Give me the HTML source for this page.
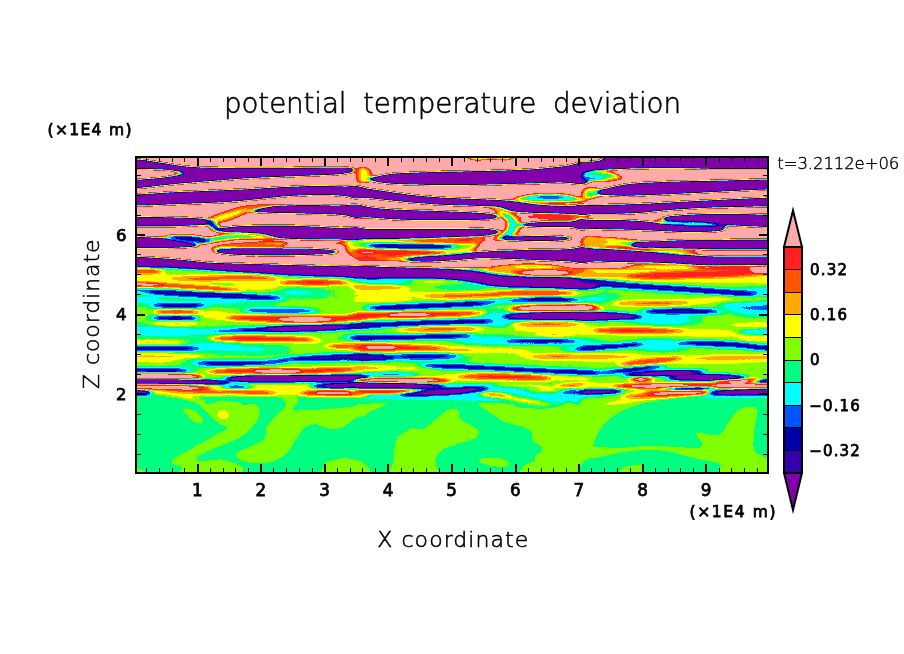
<!DOCTYPE html>
<html lang="en"><head><meta charset="utf-8"><title>potential temperature deviation</title>
<style>html,body{margin:0;padding:0;background:#fff}svg{display:block}text{font-family:"DejaVu Sans","Liberation Sans",sans-serif;fill:#000}.ws{word-spacing:8px}.thin{font-family:"DejaVu Sans Light","DejaVu Sans","Liberation Sans",sans-serif}</style></head><body>
<svg width="904" height="654" viewBox="0 0 904 654">
<defs>
<filter id="cmap" x="0" y="0" width="100%" height="100%" filterUnits="objectBoundingBox" color-interpolation-filters="sRGB"><feComponentTransfer><feFuncR type="linear" slope="1.5" intercept="-0.25"/><feFuncG type="linear" slope="1.5" intercept="-0.25"/><feFuncB type="linear" slope="1.5" intercept="-0.25"/></feComponentTransfer><feComponentTransfer><feFuncR type="table" tableValues="0.0000 0.0118 0.0236 0.0356 0.0476 0.0598 0.0721 0.0845 0.0970 0.1097 0.1225 0.1354 0.1485 0.1618 0.1752 0.1889 0.2027 0.2167 0.2310 0.2456 0.2604 0.2755 0.2910 0.3069 0.3232 0.3401 0.3575 0.3757 0.3949 0.4153 0.4375 0.4628 0.5000 0.5372 0.5625 0.5847 0.6051 0.6243 0.6425 0.6599 0.6768 0.6931 0.7090 0.7245 0.7396 0.7544 0.7690 0.7833 0.7973 0.8111 0.8248 0.8382 0.8515 0.8646 0.8775 0.8903 0.9030 0.9155 0.9279 0.9402 0.9524 0.9644 0.9764 0.9882 1.0000"/><feFuncG type="table" tableValues="0.0000 0.0118 0.0236 0.0356 0.0476 0.0598 0.0721 0.0845 0.0970 0.1097 0.1225 0.1354 0.1485 0.1618 0.1752 0.1889 0.2027 0.2167 0.2310 0.2456 0.2604 0.2755 0.2910 0.3069 0.3232 0.3401 0.3575 0.3757 0.3949 0.4153 0.4375 0.4628 0.5000 0.5372 0.5625 0.5847 0.6051 0.6243 0.6425 0.6599 0.6768 0.6931 0.7090 0.7245 0.7396 0.7544 0.7690 0.7833 0.7973 0.8111 0.8248 0.8382 0.8515 0.8646 0.8775 0.8903 0.9030 0.9155 0.9279 0.9402 0.9524 0.9644 0.9764 0.9882 1.0000"/><feFuncB type="table" tableValues="0.0000 0.0118 0.0236 0.0356 0.0476 0.0598 0.0721 0.0845 0.0970 0.1097 0.1225 0.1354 0.1485 0.1618 0.1752 0.1889 0.2027 0.2167 0.2310 0.2456 0.2604 0.2755 0.2910 0.3069 0.3232 0.3401 0.3575 0.3757 0.3949 0.4153 0.4375 0.4628 0.5000 0.5372 0.5625 0.5847 0.6051 0.6243 0.6425 0.6599 0.6768 0.6931 0.7090 0.7245 0.7396 0.7544 0.7690 0.7833 0.7973 0.8111 0.8248 0.8382 0.8515 0.8646 0.8775 0.8903 0.9030 0.9155 0.9279 0.9402 0.9524 0.9644 0.9764 0.9882 1.0000"/></feComponentTransfer><feComponentTransfer><feFuncR type="discrete" tableValues="0.5020 0.2000 0.0000 0.0000 0.0000 0.0000 0.5020 1.0000 1.0000 1.0000 1.0000 1.0000"/><feFuncG type="discrete" tableValues="0.0000 0.0000 0.0000 0.3333 1.0000 1.0000 1.0000 1.0000 0.6667 0.3333 0.1255 0.6667"/><feFuncB type="discrete" tableValues="0.6667 0.6667 0.6667 1.0000 1.0000 0.5020 0.0000 0.0000 0.0000 0.0000 0.1255 0.6667"/></feComponentTransfer></filter>
<filter id="b1" x="-20%" y="-50%" width="140%" height="200%" color-interpolation-filters="sRGB"><feGaussianBlur stdDeviation="2.4 1.4"/></filter>
<filter id="b2" x="-20%" y="-50%" width="140%" height="200%" color-interpolation-filters="sRGB"><feGaussianBlur stdDeviation="3.2 1.6"/></filter>
<filter id="b3" x="-20%" y="-50%" width="140%" height="200%" color-interpolation-filters="sRGB"><feGaussianBlur stdDeviation="7 2.6"/></filter>
<filter id="b4" x="-20%" y="-50%" width="140%" height="200%" color-interpolation-filters="sRGB"><feGaussianBlur stdDeviation="2 1"/></filter>
<clipPath id="pc"><rect x="136" y="157" width="632" height="316"/></clipPath>
</defs>
<rect width="904" height="654" fill="#fff"/>
<g clip-path="url(#pc)"><g filter="url(#cmap)">
<rect x="116" y="137" width="672" height="356" fill="#7c7c7c"/>
<g><path d="M100.0 100.0 L800.0 100.0 L800.0 272.0 L100.0 266.0Z" fill="#ffffff"/></g>
<g filter="url(#b2)"><path d="M100.0 264.0 L800.0 270.0 L800.0 397.0 L100.0 397.0Z" fill="#818181"/></g>
<g filter="url(#b1)"><path d="M96.0 159.3C103.2 154.1 124.3 158.7 136.0 159.3C147.7 159.9 152.0 161.3 161.0 162.6C170.0 163.8 177.0 165.4 186.0 166.3C195.0 167.2 197.5 167.2 211.0 167.6C224.5 167.9 243.0 168.1 261.0 168.1C279.0 168.1 295.2 167.6 311.0 167.6C326.8 167.5 340.8 167.1 348.5 167.6C356.2 168.0 353.6 169.1 354.0 170.1C354.4 171.0 354.2 171.9 351.0 172.7C347.8 173.5 343.2 174.2 336.0 174.7C328.8 175.2 320.0 175.3 311.0 175.7C302.0 176.1 295.0 176.3 286.0 176.7C277.0 177.1 270.0 177.2 261.0 177.7C252.0 178.1 245.0 178.6 236.0 179.2C227.0 179.8 220.0 180.5 211.0 181.2C202.0 181.9 195.0 182.4 186.0 183.2C177.0 184.0 170.0 184.8 161.0 185.7C152.0 186.6 147.7 187.8 136.0 188.2C124.3 188.6 103.2 193.4 96.0 188.2C88.8 183.0 88.8 164.5 96.0 159.3Z" fill="#000000"/><path d="M96.0 169.0C103.2 167.1 125.2 168.9 136.0 169.0C146.8 169.1 149.7 169.2 156.0 169.5C162.3 169.8 166.3 169.8 171.0 170.5C175.7 171.2 182.2 172.2 182.2 173.2C182.2 174.3 175.7 175.4 171.0 176.2C166.3 177.1 162.3 177.4 156.0 178.0C149.7 178.6 146.8 179.2 136.0 179.5C125.2 179.8 103.2 181.4 96.0 179.5C88.8 177.6 88.8 170.9 96.0 169.0Z" fill="#ffffff"/></g>
<g filter="url(#b2)"><path d="M173.5 173.5C173.5 173.1 178.1 172.2 181.0 172.2C183.9 172.2 189.8 173.1 189.8 173.5C189.8 173.9 183.9 174.8 181.0 174.8C178.1 174.8 173.5 173.9 173.5 173.5Z" fill="#8d8d8d"/></g>
<g filter="url(#b1)"><path d="M96.0 194.3C103.2 192.2 124.3 194.6 136.0 194.3C147.7 194.0 152.0 193.3 161.0 192.8C170.0 192.3 177.0 192.0 186.0 191.6C195.0 191.1 202.0 190.9 211.0 190.6C220.0 190.2 227.0 190.0 236.0 189.6C245.0 189.1 252.0 188.8 261.0 188.3C270.0 187.8 277.0 187.2 286.0 186.8C295.0 186.4 302.0 185.9 311.0 185.8C320.0 185.7 326.8 185.7 336.0 186.1C345.2 186.4 357.3 185.5 362.0 187.6C366.7 189.6 366.7 195.8 362.0 197.2C357.3 198.6 345.2 195.8 336.0 195.4C326.8 195.1 320.0 195.0 311.0 195.2C302.0 195.4 295.0 195.8 286.0 196.4C277.0 197.1 270.0 198.0 261.0 198.9C252.0 199.8 245.0 200.7 236.0 201.4C227.0 202.2 220.0 202.5 211.0 202.9C202.0 203.4 195.0 203.6 186.0 203.9C177.0 204.3 170.0 204.6 161.0 204.9C152.0 205.3 147.7 205.6 136.0 205.7C124.3 205.8 103.2 207.8 96.0 205.7C88.8 203.6 88.8 196.4 96.0 194.3Z" fill="#000000"/><path d="M248.5 209.3C251.7 208.4 259.2 207.0 266.0 206.3C272.8 205.6 277.9 205.5 286.0 205.3C294.1 205.1 302.0 205.1 311.0 205.1C320.0 205.1 326.8 205.2 336.0 205.3C345.2 205.4 357.3 203.8 362.0 205.8C366.7 207.8 366.7 214.8 362.0 216.4C357.3 218.1 345.2 215.1 336.0 214.7C326.8 214.2 320.0 214.2 311.0 213.9C302.0 213.7 295.0 213.4 286.0 213.2C277.0 213.0 267.8 213.1 261.0 212.7C254.2 212.3 250.8 211.8 248.5 211.2C246.2 210.6 245.3 210.2 248.5 209.3Z" fill="#000000"/></g>
<g filter="url(#b2)"><path d="M208.5 217.0C210.8 214.8 219.7 212.2 226.0 210.0C232.3 207.8 236.3 206.2 243.5 205.0C250.7 203.8 260.1 203.5 266.0 203.5C271.9 203.5 277.8 203.8 276.0 205.0C274.2 206.2 262.3 207.8 256.0 210.0C249.7 212.2 246.4 214.8 241.0 217.0C235.6 219.2 230.9 221.5 226.0 222.5C221.1 223.5 216.7 223.5 213.5 222.5C210.3 221.5 206.2 219.2 208.5 217.0Z" fill="#a9a9a9"/><path d="M213.5 217.0C215.5 215.6 223.1 213.9 228.5 212.5C233.9 211.1 239.7 209.4 243.5 209.0C247.3 208.6 251.1 209.2 249.8 210.5C248.4 211.8 240.7 214.2 236.0 216.0C231.3 217.8 226.9 219.7 223.5 220.5C220.1 221.3 219.1 221.1 217.2 220.5C215.4 219.9 211.5 218.4 213.5 217.0Z" fill="#8d8d8d"/></g>
<g filter="url(#b1)"><path d="M96.0 216.8C103.2 215.1 124.3 216.8 136.0 216.8C147.7 216.8 152.0 216.9 161.0 217.1C170.0 217.2 178.3 217.2 186.0 217.6C193.7 217.9 199.4 218.2 203.5 218.8C207.6 219.4 207.6 220.1 208.5 220.8C209.4 221.5 208.9 222.0 208.5 222.7C208.1 223.4 210.1 224.1 206.0 224.7C201.9 225.3 194.1 225.6 186.0 225.9C177.9 226.3 170.0 226.4 161.0 226.4C152.0 226.5 147.7 226.4 136.0 226.4C124.3 226.4 103.2 228.2 96.0 226.4C88.8 224.7 88.8 218.5 96.0 216.8Z" fill="#000000"/><path d="M218.5 228.8C221.2 227.9 228.3 226.9 236.0 226.3C243.7 225.7 252.0 225.7 261.0 225.6C270.0 225.4 277.0 225.4 286.0 225.6C295.0 225.7 302.0 225.9 311.0 226.3C320.0 226.7 326.8 227.1 336.0 227.6C345.2 228.0 357.3 226.5 362.0 228.8C366.7 231.1 366.7 238.2 362.0 240.2C357.3 242.2 345.2 239.8 336.0 239.7C326.8 239.6 320.0 239.6 311.0 239.4C302.0 239.3 292.3 239.3 286.0 238.9C279.7 238.6 280.5 238.6 276.0 237.7C271.5 236.8 268.2 234.8 261.0 233.9C253.8 233.0 243.2 233.1 236.0 232.7C228.8 232.2 224.2 232.2 221.0 231.4C217.8 230.7 215.8 229.7 218.5 228.8Z" fill="#000000"/></g>
<g filter="url(#b2)"><path d="M206.0 219.0C207.7 218.6 211.5 219.3 214.0 220.8C216.5 222.2 218.0 225.2 219.8 227.0C221.5 228.8 224.3 229.6 223.5 230.5C222.7 231.4 218.1 232.6 215.5 232.0C212.9 231.4 210.9 228.6 209.0 227.0C207.1 225.4 205.3 224.7 204.8 223.2C204.2 221.8 204.3 219.4 206.0 219.0Z" fill="#464646"/><path d="M193.5 243.2C193.5 242.3 203.3 239.7 211.0 238.2C218.7 236.8 227.0 235.5 236.0 235.0C245.0 234.5 253.3 234.8 261.0 235.5C268.6 236.2 278.5 238.3 278.5 239.0C278.5 239.7 268.6 239.3 261.0 239.5C253.3 239.7 245.0 239.3 236.0 240.0C227.0 240.7 218.7 242.7 211.0 243.2C203.3 243.8 193.5 244.2 193.5 243.2Z" fill="#7c7c7c"/><path d="M201.0 240.8C201.0 240.1 210.8 236.1 218.5 234.8C226.2 233.4 234.5 233.2 243.5 233.5C252.5 233.8 268.5 236.0 268.5 236.5C268.5 237.0 252.5 236.2 243.5 236.5C234.5 236.8 226.2 237.5 218.5 238.2C210.8 239.0 201.0 241.4 201.0 240.8Z" fill="#727272"/></g>
<g filter="url(#b1)"><path d="M96.0 236.8C103.2 234.7 124.3 236.6 136.0 236.8C147.7 237.0 154.2 237.3 161.0 237.8C167.8 238.3 167.7 238.8 173.5 239.8C179.3 240.8 189.0 242.4 193.5 243.6C198.0 244.7 199.8 245.5 198.5 246.2C197.2 246.9 192.8 247.1 186.0 247.4C179.2 247.8 170.0 248.1 161.0 248.2C152.0 248.3 147.7 248.2 136.0 248.2C124.3 248.2 103.2 250.3 96.0 248.2C88.8 246.1 88.8 238.9 96.0 236.8Z" fill="#000000"/></g>
<g filter="url(#b2)"><path d="M163.5 236.0C165.3 234.8 178.3 234.3 186.0 234.5C193.7 234.7 201.7 235.6 206.0 237.0C210.3 238.4 212.0 241.3 209.8 242.5C207.5 243.7 199.6 243.8 193.5 243.5C187.4 243.2 181.4 242.3 176.0 241.0C170.6 239.7 161.7 237.2 163.5 236.0Z" fill="#565656"/><path d="M208.5 249.0C208.5 248.1 213.8 245.8 221.0 244.5C228.2 243.2 238.6 242.6 248.5 242.0C258.4 241.4 268.4 240.8 276.0 241.0C283.6 241.2 291.0 242.2 291.0 243.2C291.0 244.3 283.6 246.1 276.0 247.0C268.4 247.9 258.4 247.6 248.5 248.0C238.6 248.4 228.2 249.3 221.0 249.5C213.8 249.7 208.5 249.9 208.5 249.0Z" fill="#8d8d8d"/><path d="M218.5 247.5C218.5 247.1 228.3 245.9 236.0 245.2C243.7 244.6 252.9 244.1 261.0 244.0C269.1 243.9 281.0 244.0 281.0 244.5C281.0 245.0 269.1 246.4 261.0 247.0C252.9 247.6 243.7 247.7 236.0 247.8C228.3 247.8 218.5 247.9 218.5 247.5Z" fill="#b9b9b9"/><path d="M328.5 243.2C328.5 242.3 332.9 240.8 336.0 240.8C339.1 240.8 346.0 242.3 346.0 243.2C346.0 244.2 339.1 245.8 336.0 245.8C332.9 245.8 328.5 244.2 328.5 243.2Z" fill="#b9b9b9"/><path d="M341.0 243.2C341.0 242.2 347.2 240.8 351.0 240.2C354.8 239.7 360.0 239.2 362.0 240.2C364.0 241.3 364.0 245.2 362.0 246.2C360.0 247.3 354.8 246.8 351.0 246.2C347.2 245.7 341.0 244.3 341.0 243.2Z" fill="#8d8d8d"/></g>
<g filter="url(#b1)"><path d="M216.0 250.1C219.6 249.4 227.9 248.9 236.0 248.6C244.1 248.3 252.0 248.4 261.0 248.3C270.0 248.3 277.0 248.3 286.0 248.3C295.0 248.4 302.0 248.2 311.0 248.6C320.0 249.0 331.5 249.8 336.0 250.6C340.5 251.4 340.5 252.1 336.0 252.9C331.5 253.7 320.0 254.5 311.0 254.9C302.0 255.3 295.0 255.3 286.0 255.4C277.0 255.5 270.0 255.5 261.0 255.4C252.0 255.3 244.1 255.4 236.0 254.9C227.9 254.4 219.6 253.3 216.0 252.4C212.4 251.5 212.4 250.8 216.0 250.1Z" fill="#000000"/><path d="M96.0 256.8C103.2 255.1 124.3 256.6 136.0 256.8C147.7 257.0 152.0 257.5 161.0 258.1C170.0 258.6 177.0 259.2 186.0 260.1C195.0 260.9 199.8 261.9 211.0 262.6C222.2 263.2 235.0 263.4 248.5 263.8C262.0 264.2 265.6 264.4 286.0 265.1C306.4 265.7 345.8 267.0 362.0 267.6C378.2 268.1 373.5 266.4 376.0 268.1C378.5 269.7 378.5 275.2 376.0 276.7C373.5 278.2 371.4 276.7 362.0 276.4C352.6 276.2 337.2 275.6 323.5 275.2C309.8 274.8 299.5 274.6 286.0 273.9C272.5 273.3 262.0 272.3 248.5 271.4C235.0 270.6 224.5 269.8 211.0 268.9C197.5 268.1 187.0 267.2 173.5 266.7C160.0 266.2 149.9 266.3 136.0 266.2C122.0 266.1 103.2 267.9 96.0 266.2C88.8 264.5 88.8 258.5 96.0 256.8Z" fill="#000000"/></g>
<g filter="url(#b2)"><path d="M351.0 253.2C352.5 251.8 360.0 248.9 362.0 250.0C364.0 251.1 363.5 258.0 362.0 259.5C360.5 261.0 355.5 259.4 353.5 258.2C351.5 257.1 349.5 254.7 351.0 253.2Z" fill="#b9b9b9"/></g>
<g filter="url(#b1)"><path d="M454.5 143.0C454.5 140.1 462.8 143.0 469.5 143.0C476.2 143.0 484.4 143.0 492.0 143.0C499.6 143.0 506.1 143.0 512.0 143.0C517.9 143.0 524.5 140.1 524.5 143.0C524.5 145.9 517.9 156.0 512.0 159.0C506.1 162.0 499.6 159.5 492.0 159.5C484.4 159.5 476.2 162.2 469.5 159.2C462.8 156.3 454.5 145.9 454.5 143.0Z" fill="#7c7c7c"/></g>
<g filter="url(#b2)"><path d="M357.0 168.2C358.8 165.6 364.3 166.3 367.0 167.0C369.7 167.7 371.1 169.8 372.0 172.0C372.9 174.2 372.9 177.5 372.0 179.5C371.1 181.5 369.7 182.8 367.0 183.2C364.3 183.7 358.8 184.7 357.0 182.0C355.2 179.3 355.2 170.9 357.0 168.2Z" fill="#8d8d8d"/></g>
<g filter="url(#b1)"><path d="M369.5 178.8C371.8 177.5 379.4 175.4 387.0 174.3C394.6 173.2 403.0 173.0 412.0 172.6C421.0 172.1 428.0 172.0 437.0 171.8C446.0 171.6 453.0 171.5 462.0 171.3C471.0 171.1 478.0 171.0 487.0 170.8C496.0 170.6 503.0 170.4 512.0 170.1C521.0 169.7 528.0 169.5 537.0 168.8C546.0 168.1 552.8 167.2 562.0 166.3C571.2 165.4 583.3 160.8 588.0 163.8C592.7 166.8 592.7 179.3 588.0 182.7C583.3 186.1 571.2 182.6 562.0 182.7C552.8 182.8 546.0 183.2 537.0 183.4C528.0 183.7 521.0 183.7 512.0 183.9C503.0 184.2 496.0 184.5 487.0 184.7C478.0 184.9 471.0 185.1 462.0 185.2C453.0 185.3 446.0 185.3 437.0 185.2C428.0 185.1 421.0 185.0 412.0 184.7C403.0 184.4 393.8 184.0 387.0 183.4C380.2 182.9 377.6 182.3 374.5 181.4C371.4 180.6 367.2 180.1 369.5 178.8Z" fill="#000000"/></g>
<g filter="url(#b2)"><path d="M567.0 175.8C567.0 175.0 573.2 174.2 577.0 173.8C580.8 173.3 586.0 172.4 588.0 173.2C590.0 174.1 590.0 177.4 588.0 178.2C586.0 179.1 580.8 178.2 577.0 177.8C573.2 177.3 567.0 176.5 567.0 175.8Z" fill="#656565"/></g>
<g filter="url(#b1)"><path d="M352.0 187.1C353.8 185.3 355.7 187.0 362.0 187.8C368.3 188.6 378.0 190.0 387.0 191.3C396.0 192.6 403.0 193.8 412.0 194.8C421.0 195.8 428.0 196.4 437.0 197.1C446.0 197.7 453.0 197.9 462.0 198.3C471.0 198.7 478.0 198.9 487.0 199.3C496.0 199.8 503.0 199.9 512.0 200.8C521.0 201.7 528.0 203.4 537.0 204.3C546.0 205.2 552.8 205.4 562.0 205.8C571.2 206.2 583.3 204.8 588.0 206.3C592.7 207.8 592.7 212.6 588.0 213.9C583.3 215.3 571.2 214.1 562.0 213.9C552.8 213.8 546.0 213.6 537.0 213.2C528.0 212.8 518.8 212.4 512.0 211.4C505.2 210.5 504.0 208.6 499.5 207.7C495.0 206.8 493.8 206.8 487.0 206.4C480.2 206.1 471.0 206.0 462.0 205.7C453.0 205.4 446.0 205.2 437.0 204.7C428.0 204.2 421.0 203.5 412.0 202.7C403.0 201.9 396.0 201.1 387.0 200.2C378.0 199.3 368.3 198.1 362.0 197.7C355.7 197.2 353.8 199.6 352.0 197.7C350.2 195.8 350.2 188.8 352.0 187.1Z" fill="#000000"/></g>
<g filter="url(#b2)"><path d="M512.0 199.0C512.0 197.4 523.9 194.8 532.0 193.8C540.1 192.7 549.4 192.9 557.0 193.2C564.6 193.6 568.9 194.2 574.5 195.5C580.1 196.8 588.0 199.5 588.0 200.8C588.0 202.0 580.1 202.1 574.5 202.5C568.9 202.9 564.6 203.2 557.0 203.2C549.4 203.3 540.1 203.5 532.0 202.8C523.9 202.0 512.0 200.6 512.0 199.0Z" fill="#7c7c7c"/><path d="M519.5 198.2C519.5 197.2 529.4 195.2 537.0 194.5C544.6 193.8 554.8 193.8 562.0 194.5C569.2 195.2 577.0 197.2 577.0 198.2C577.0 199.3 569.2 200.1 562.0 200.5C554.8 200.9 544.6 200.9 537.0 200.5C529.4 200.1 519.5 199.3 519.5 198.2Z" fill="#727272"/><path d="M532.0 197.0C532.0 196.5 537.0 195.8 542.0 195.5C547.0 195.2 555.0 195.2 559.5 195.5C564.0 195.8 567.0 196.5 567.0 197.0C567.0 197.5 564.0 198.2 559.5 198.5C555.0 198.8 547.0 198.8 542.0 198.5C537.0 198.2 532.0 197.5 532.0 197.0Z" fill="#656565"/></g>
<g filter="url(#b1)"><path d="M352.0 205.8C353.8 204.0 355.7 205.8 362.0 206.3C368.3 206.8 378.0 208.1 387.0 208.8C396.0 209.5 403.0 209.7 412.0 210.1C421.0 210.4 428.0 210.5 437.0 210.8C446.0 211.1 453.0 211.4 462.0 211.8C471.0 212.2 480.5 212.6 487.0 213.3C493.5 214.0 496.2 215.0 498.2 215.8C500.3 216.6 500.3 217.0 498.2 217.7C496.2 218.4 493.5 219.2 487.0 219.7C480.5 220.1 471.0 220.1 462.0 220.2C453.0 220.3 446.0 220.2 437.0 220.2C428.0 220.2 421.0 220.4 412.0 220.2C403.0 220.0 396.0 219.5 387.0 218.9C378.0 218.4 368.3 217.6 362.0 217.2C355.7 216.8 353.8 218.5 352.0 216.4C350.2 214.4 350.2 207.6 352.0 205.8Z" fill="#000000"/><path d="M352.0 228.8C353.8 226.7 355.7 228.8 362.0 228.8C368.3 228.8 378.0 228.8 387.0 228.8C396.0 228.8 403.0 228.8 412.0 228.8C421.0 228.8 428.0 228.8 437.0 228.8C446.0 228.8 453.0 228.8 462.0 228.8C471.0 228.8 480.2 228.4 487.0 228.8C493.8 229.2 497.2 230.1 499.5 230.8C501.8 231.5 501.8 231.8 499.5 232.7C497.2 233.6 493.8 234.9 487.0 235.7C480.2 236.5 471.0 236.8 462.0 237.2C453.0 237.6 446.0 237.9 437.0 238.2C428.0 238.5 421.0 238.7 412.0 238.9C403.0 239.2 396.0 239.5 387.0 239.7C378.0 239.9 368.3 240.1 362.0 240.2C355.7 240.3 353.8 242.3 352.0 240.2C350.2 238.1 350.2 230.9 352.0 228.8Z" fill="#000000"/></g>
<g filter="url(#b2)"><path d="M484.5 207.0C485.9 206.6 496.1 206.7 502.0 208.2C507.9 209.8 513.4 212.6 517.0 215.8C520.6 218.9 522.0 222.4 522.0 225.8C522.0 229.1 520.6 231.8 517.0 234.5C513.4 237.2 506.5 239.8 502.0 240.8C497.5 241.7 491.6 241.5 492.0 239.5C492.4 237.5 502.2 233.1 504.5 229.5C506.8 225.9 506.3 222.9 504.5 219.5C502.7 216.1 498.1 213.0 494.5 210.8C490.9 208.5 483.1 207.4 484.5 207.0Z" fill="#8d8d8d"/><path d="M495.8 212.5C496.7 212.1 503.5 213.2 507.0 215.0C510.5 216.8 514.0 219.3 515.0 222.5C516.0 225.7 515.1 229.5 512.5 232.5C509.9 235.5 501.8 239.5 500.8 239.0C499.7 238.5 505.2 232.5 506.5 229.5C507.8 226.5 508.6 224.8 507.8 222.5C506.9 220.2 503.7 218.8 501.5 217.0C499.3 215.2 494.8 212.9 495.8 212.5Z" fill="#656565"/><path d="M517.0 217.0C517.0 216.2 528.9 215.1 537.0 214.8C545.1 214.4 552.8 215.1 562.0 215.2C571.2 215.4 583.3 214.7 588.0 215.5C592.7 216.3 592.7 218.7 588.0 219.5C583.3 220.3 571.2 219.8 562.0 219.8C552.8 219.7 545.1 219.7 537.0 219.2C528.9 218.8 517.0 217.8 517.0 217.0Z" fill="#a9a9a9"/></g>
<g filter="url(#b1)"><path d="M519.5 224.2C522.6 223.6 529.4 222.4 537.0 221.9C544.6 221.5 552.8 221.5 562.0 221.4C571.2 221.4 583.3 220.4 588.0 221.4C592.7 222.5 592.7 226.5 588.0 227.6C583.3 228.6 571.2 227.4 562.0 227.3C552.8 227.2 544.6 227.4 537.0 227.1C529.4 226.7 522.6 225.8 519.5 225.3C516.4 224.8 516.4 224.8 519.5 224.2Z" fill="#000000"/><path d="M504.5 237.5C508.1 236.8 516.4 236.3 524.5 236.0C532.6 235.7 541.4 235.8 549.5 236.0C557.6 236.2 565.9 236.6 569.5 237.2C573.1 237.9 573.1 239.0 569.5 239.8C565.9 240.5 557.6 241.0 549.5 241.2C541.4 241.5 532.6 241.2 524.5 241.0C516.4 240.8 508.1 240.6 504.5 240.0C500.9 239.4 500.9 238.2 504.5 237.5Z" fill="#000000"/></g>
<g filter="url(#b2)"><path d="M352.0 240.0C362.8 237.0 392.2 239.4 412.0 239.0C431.8 238.6 448.5 237.6 462.0 237.5C475.5 237.4 483.4 237.2 487.0 238.2C490.6 239.3 484.2 241.0 482.0 243.2C479.8 245.5 477.2 248.5 474.5 250.8C471.8 253.0 473.8 254.7 467.0 255.8C460.2 256.8 449.1 256.5 437.0 256.5C424.9 256.5 414.8 255.9 399.5 255.8C384.2 255.6 360.6 258.6 352.0 255.8C343.4 252.9 341.2 243.0 352.0 240.0Z" fill="#8d8d8d"/><path d="M397.0 243.2C397.0 242.8 415.1 241.4 424.5 240.8C433.9 240.1 440.9 239.8 449.5 239.5C458.1 239.2 465.2 238.6 472.0 239.0C478.8 239.4 487.0 240.9 487.0 241.5C487.0 242.1 478.8 242.2 472.0 242.5C465.2 242.8 458.1 242.9 449.5 243.0C440.9 243.1 433.9 243.2 424.5 243.2C415.1 243.3 397.0 243.7 397.0 243.2Z" fill="#b9b9b9"/><path d="M357.0 242.5C362.4 241.8 374.9 242.6 387.0 242.8C399.1 242.9 411.9 243.3 424.5 243.5C437.1 243.7 448.0 243.8 457.0 244.0C466.0 244.2 474.5 243.6 474.5 244.5C474.5 245.4 466.0 248.1 457.0 249.0C448.0 249.9 437.1 249.5 424.5 249.5C411.9 249.5 399.1 249.3 387.0 248.8C374.9 248.2 362.4 247.6 357.0 246.5C351.6 245.4 351.6 243.2 357.0 242.5Z" fill="#7c7c7c"/><path d="M367.0 245.8C367.0 245.0 373.9 244.3 382.0 244.0C390.1 243.7 402.1 244.2 412.0 244.2C421.9 244.3 429.4 244.1 437.0 244.5C444.6 244.9 454.5 245.5 454.5 246.2C454.5 247.0 444.6 248.1 437.0 248.5C429.4 248.9 421.9 248.8 412.0 248.8C402.1 248.7 390.1 248.5 382.0 248.0C373.9 247.5 367.0 246.5 367.0 245.8Z" fill="#464646"/><path d="M357.0 250.0C362.4 249.3 376.2 250.1 387.0 250.2C397.8 250.4 408.0 250.4 417.0 250.8C426.0 251.1 431.6 251.6 437.0 252.0C442.4 252.4 447.0 252.9 447.0 253.2C447.0 253.6 442.4 253.8 437.0 254.0C431.6 254.2 426.0 254.2 417.0 254.2C408.0 254.3 397.8 254.3 387.0 254.2C376.2 254.2 362.4 254.8 357.0 254.0C351.6 253.2 351.6 250.7 357.0 250.0Z" fill="#cbcbcb"/><path d="M357.0 256.0C360.6 254.9 370.7 255.6 377.0 256.0C383.3 256.4 386.6 257.6 392.0 258.5C397.4 259.4 407.0 260.2 407.0 260.8C407.0 261.3 397.4 261.3 392.0 261.5C386.6 261.7 383.3 261.9 377.0 262.0C370.7 262.1 360.6 263.1 357.0 262.0C353.4 260.9 353.4 257.1 357.0 256.0Z" fill="#b9b9b9"/><path d="M377.0 259.0C377.0 258.1 390.9 257.0 399.5 256.5C408.1 256.0 415.5 256.3 424.5 256.0C433.5 255.7 441.4 255.4 449.5 255.0C457.6 254.6 465.9 253.3 469.5 254.0C473.1 254.7 473.1 257.7 469.5 259.0C465.9 260.3 457.6 260.5 449.5 261.0C441.4 261.5 433.5 261.9 424.5 262.0C415.5 262.1 408.1 262.0 399.5 261.5C390.9 261.0 377.0 259.9 377.0 259.0Z" fill="#8d8d8d"/><path d="M404.5 260.0C404.5 259.2 416.4 258.0 424.5 257.2C432.6 256.5 440.9 256.4 449.5 255.8C458.1 255.1 466.1 254.2 472.0 253.5C477.9 252.8 480.2 251.6 482.0 252.0C483.8 252.4 483.8 254.8 482.0 256.0C480.2 257.2 477.9 257.6 472.0 258.5C466.1 259.4 458.1 260.2 449.5 260.8C440.9 261.3 432.6 261.9 424.5 261.8C416.4 261.6 404.5 260.8 404.5 260.0Z" fill="#000000"/></g>
<g filter="url(#b1)"><path d="M469.5 255.3C472.6 254.1 479.4 252.2 487.0 251.3C494.6 250.4 503.0 250.6 512.0 250.3C521.0 250.0 528.0 249.7 537.0 249.6C546.0 249.4 552.8 249.5 562.0 249.3C571.2 249.1 583.3 246.3 588.0 248.6C592.7 250.8 592.7 259.4 588.0 261.7C583.3 264.0 571.2 261.5 562.0 261.2C552.8 260.9 546.0 260.6 537.0 260.2C528.0 259.8 521.0 259.6 512.0 259.2C503.0 258.8 494.6 258.5 487.0 258.2C479.4 257.9 472.6 258.2 469.5 257.7C466.4 257.2 466.4 256.5 469.5 255.3Z" fill="#000000"/></g>
<g filter="url(#b2)"><path d="M492.0 268.2C492.0 267.2 503.9 264.9 512.0 264.0C520.1 263.1 528.9 263.3 537.0 263.5C545.1 263.7 551.1 264.0 557.0 265.0C562.9 266.0 569.5 268.1 569.5 269.0C569.5 269.9 562.9 269.7 557.0 270.0C551.1 270.3 545.1 270.5 537.0 270.5C528.9 270.5 520.1 270.4 512.0 270.0C503.9 269.6 492.0 269.3 492.0 268.2Z" fill="#8d8d8d"/><path d="M512.0 268.2C512.0 267.8 519.1 266.8 524.5 266.5C529.9 266.2 537.0 266.2 542.0 266.5C547.0 266.8 552.0 267.8 552.0 268.2C552.0 268.7 547.0 268.9 542.0 269.0C537.0 269.1 529.9 269.1 524.5 269.0C519.1 268.9 512.0 268.7 512.0 268.2Z" fill="#7c7c7c"/></g>
<g filter="url(#b1)"><path d="M578.0 164.3C579.8 160.5 583.5 162.8 588.0 161.8C592.5 160.8 598.0 162.3 603.0 158.8C608.0 155.3 600.2 145.3 615.5 142.3C630.8 139.3 660.5 142.3 688.0 142.3C715.5 142.3 746.4 142.3 768.0 142.3C789.6 142.3 800.8 137.5 808.0 142.3C815.2 147.1 815.2 164.2 808.0 168.9C800.8 173.7 785.1 168.9 768.0 168.9C750.9 168.9 731.9 169.1 713.0 168.9C694.1 168.8 678.8 168.2 663.0 168.2C647.2 168.2 636.3 168.6 625.5 168.9C614.7 169.3 609.8 169.5 603.0 170.2C596.2 170.9 592.5 170.4 588.0 172.7C583.5 174.9 579.8 184.2 578.0 182.7C576.2 181.2 576.2 168.1 578.0 164.3Z" fill="#000000"/></g>
<g filter="url(#b2)"><path d="M583.0 171.5C586.6 169.7 597.1 170.4 603.0 170.8C608.9 171.1 611.9 171.9 615.5 173.2C619.1 174.6 623.5 176.7 623.0 178.2C622.5 179.8 617.5 181.3 613.0 182.0C608.5 182.7 603.4 182.2 598.0 182.0C592.6 181.8 585.7 182.6 583.0 180.8C580.3 178.9 579.4 173.3 583.0 171.5Z" fill="#7c7c7c"/><path d="M583.0 176.8C585.2 176.3 591.9 176.6 595.5 177.0C599.1 177.4 603.0 178.5 603.0 179.0C603.0 179.5 599.1 179.9 595.5 180.0C591.9 180.1 585.2 180.3 583.0 179.8C580.8 179.2 580.8 177.2 583.0 176.8Z" fill="#656565"/><path d="M605.5 180.8C605.5 180.2 611.5 178.6 615.5 178.5C619.5 178.4 628.0 179.5 628.0 180.0C628.0 180.5 619.5 181.4 615.5 181.5C611.5 181.6 605.5 181.3 605.5 180.8Z" fill="#b9b9b9"/><path d="M583.0 188.2C585.7 186.0 594.0 187.1 598.0 187.5C602.0 187.9 605.0 189.0 605.5 190.8C606.0 192.5 603.6 195.3 600.5 197.0C597.4 198.7 591.1 199.5 588.0 200.0C584.9 200.5 583.9 202.1 583.0 200.0C582.1 197.9 580.3 190.5 583.0 188.2Z" fill="#8d8d8d"/><path d="M583.0 192.0C585.2 190.9 592.6 191.1 595.5 191.5C598.4 191.9 599.7 193.0 599.2 194.0C598.8 195.0 595.9 196.4 593.0 197.0C590.1 197.6 584.8 198.4 583.0 197.5C581.2 196.6 580.8 193.1 583.0 192.0Z" fill="#7c7c7c"/></g>
<g filter="url(#b1)"><path d="M600.5 190.5C604.5 188.6 614.2 185.8 625.5 184.2C636.8 182.7 647.2 182.4 663.0 181.8C678.8 181.1 694.1 180.9 713.0 180.5C731.9 180.1 750.9 179.5 768.0 179.2C785.1 179.0 800.8 177.4 808.0 179.2C815.2 181.1 815.2 187.9 808.0 189.8C800.8 191.6 780.6 189.5 768.0 189.8C755.4 190.0 747.9 190.6 738.0 191.0C728.1 191.4 722.0 191.8 713.0 192.2C704.0 192.7 697.0 193.1 688.0 193.5C679.0 193.9 674.2 194.3 663.0 194.8C651.8 195.2 636.3 196.0 625.5 196.0C614.7 196.0 607.5 195.7 603.0 194.8C598.5 193.8 596.5 192.4 600.5 190.5Z" fill="#000000"/><path d="M578.0 205.8C579.8 204.2 577.2 205.7 588.0 205.3C598.8 204.9 620.0 204.5 638.0 203.8C656.0 203.1 674.5 202.0 688.0 201.3C701.5 200.6 698.6 200.7 713.0 200.1C727.4 199.4 750.9 198.0 768.0 197.6C785.1 197.1 800.8 195.9 808.0 197.6C815.2 199.2 815.2 204.8 808.0 206.4C800.8 208.1 785.1 206.2 768.0 206.4C750.9 206.7 727.4 207.2 713.0 207.7C698.6 208.1 697.0 208.4 688.0 208.9C679.0 209.5 672.0 209.9 663.0 210.7C654.0 211.5 647.0 212.6 638.0 213.2C629.0 213.8 622.0 213.8 613.0 213.9C604.0 214.1 594.3 213.9 588.0 213.9C581.7 213.9 579.8 215.4 578.0 213.9C576.2 212.5 576.2 207.4 578.0 205.8Z" fill="#000000"/></g>
<g filter="url(#b2)"><path d="M653.0 219.0C653.0 218.2 662.9 219.3 670.5 219.8C678.1 220.2 687.0 221.0 695.5 221.5C704.0 222.0 711.7 222.0 718.0 222.8C724.3 223.5 730.5 224.7 730.5 225.5C730.5 226.3 724.3 227.1 718.0 227.2C711.7 227.4 704.0 227.0 695.5 226.5C687.0 226.0 678.1 225.6 670.5 224.2C662.9 222.9 653.0 219.8 653.0 219.0Z" fill="#7c7c7c"/><path d="M675.5 223.2C675.5 222.9 686.2 222.7 693.0 222.8C699.8 222.8 707.6 223.1 713.0 223.5C718.4 223.9 723.0 224.4 723.0 224.8C723.0 225.1 718.4 225.5 713.0 225.5C707.6 225.5 699.8 225.2 693.0 224.8C686.2 224.3 675.5 223.6 675.5 223.2Z" fill="#8d8d8d"/></g>
<g filter="url(#b1)"><path d="M665.5 216.8C669.5 215.7 679.5 215.0 688.0 214.5C696.5 214.0 704.0 213.9 713.0 213.8C722.0 213.6 728.1 213.6 738.0 213.8C747.9 213.9 755.4 214.4 768.0 214.5C780.6 214.6 800.8 212.2 808.0 214.5C815.2 216.8 815.2 225.0 808.0 227.2C800.8 229.5 780.6 227.5 768.0 227.2C755.4 227.0 745.6 226.4 738.0 226.0C730.4 225.6 730.0 225.3 725.5 224.8C721.0 224.2 719.8 223.6 713.0 223.0C706.2 222.4 696.5 222.0 688.0 221.5C679.5 221.0 669.5 221.1 665.5 220.2C661.5 219.4 661.5 217.8 665.5 216.8Z" fill="#000000"/><path d="M578.0 220.0C579.8 218.4 579.5 220.0 588.0 220.0C596.5 220.0 614.2 219.7 625.5 220.0C636.8 220.3 643.8 221.1 650.5 221.8C657.2 222.4 656.2 223.0 663.0 223.8C669.8 224.5 679.0 225.3 688.0 225.8C697.0 226.2 706.5 226.5 713.0 226.5C719.5 226.5 722.2 225.4 724.2 226.0C726.3 226.6 726.3 229.0 724.2 230.0C722.2 231.0 719.5 231.3 713.0 231.8C706.5 232.2 701.5 232.5 688.0 232.2C674.5 232.0 656.0 230.8 638.0 230.2C620.0 229.7 598.8 229.5 588.0 229.2C577.2 229.0 579.8 230.7 578.0 229.0C576.2 227.3 576.2 221.6 578.0 220.0Z" fill="#000000"/></g>
<g filter="url(#b2)"><path d="M635.5 217.0C635.5 216.5 641.9 215.6 645.5 215.5C649.1 215.4 655.5 216.0 655.5 216.5C655.5 217.0 649.1 218.4 645.5 218.5C641.9 218.6 635.5 217.5 635.5 217.0Z" fill="#b9b9b9"/><path d="M583.0 236.5C586.6 234.6 595.4 236.2 603.0 236.5C610.6 236.8 616.5 237.3 625.5 238.2C634.5 239.2 650.8 240.4 653.0 242.0C655.2 243.6 645.2 246.0 638.0 247.0C630.8 248.0 622.9 247.5 613.0 247.5C603.1 247.5 588.4 249.0 583.0 247.0C577.6 245.0 579.4 238.4 583.0 236.5Z" fill="#8d8d8d"/><path d="M583.0 239.0C585.7 237.9 593.0 238.5 598.0 239.0C603.0 239.5 610.5 240.9 610.5 242.0C610.5 243.1 603.0 244.5 598.0 245.0C593.0 245.5 585.7 246.1 583.0 245.0C580.3 243.9 580.3 240.1 583.0 239.0Z" fill="#9a9a9a"/><path d="M618.0 243.2C618.0 242.6 626.7 242.0 633.0 242.0C639.3 242.0 653.0 242.6 653.0 243.2C653.0 243.9 639.3 245.5 633.0 245.5C626.7 245.5 618.0 243.9 618.0 243.2Z" fill="#7c7c7c"/></g>
<g filter="url(#b1)"><path d="M635.5 243.5C640.5 242.3 653.5 241.4 663.0 240.8C672.5 240.1 679.0 240.1 688.0 240.0C697.0 239.9 704.0 240.1 713.0 240.0C722.0 239.9 728.1 239.6 738.0 239.5C747.9 239.4 755.4 239.5 768.0 239.5C780.6 239.5 800.8 237.7 808.0 239.5C815.2 241.3 815.2 247.7 808.0 249.5C800.8 251.3 780.6 249.5 768.0 249.5C755.4 249.5 747.9 249.5 738.0 249.5C728.1 249.5 722.0 249.6 713.0 249.5C704.0 249.4 697.0 249.2 688.0 249.0C679.0 248.8 672.5 248.8 663.0 248.5C653.5 248.2 640.5 248.2 635.5 247.2C630.5 246.3 630.5 244.7 635.5 243.5Z" fill="#000000"/></g>
<g filter="url(#b2)"><path d="M645.5 250.0C645.5 249.2 655.4 248.5 663.0 248.5C670.6 248.5 680.8 249.0 688.0 249.8C695.2 250.5 703.0 251.7 703.0 252.5C703.0 253.3 695.2 254.2 688.0 254.2C680.8 254.3 670.6 253.8 663.0 253.0C655.4 252.2 645.5 250.8 645.5 250.0Z" fill="#8d8d8d"/><path d="M688.0 252.0C688.0 251.5 692.4 250.5 695.5 250.5C698.6 250.5 705.5 251.5 705.5 252.0C705.5 252.5 698.6 253.5 695.5 253.5C692.4 253.5 688.0 252.5 688.0 252.0Z" fill="#b9b9b9"/></g>
<g filter="url(#b1)"><path d="M578.0 248.6C579.8 246.2 581.7 248.4 588.0 248.6C594.3 248.7 604.0 248.9 613.0 249.3C622.0 249.7 629.0 250.1 638.0 250.8C647.0 251.5 654.0 252.5 663.0 253.3C672.0 254.1 679.0 254.5 688.0 255.1C697.0 255.6 704.0 256.1 713.0 256.3C722.0 256.5 728.1 256.3 738.0 256.3C747.9 256.3 755.4 256.3 768.0 256.3C780.6 256.3 800.8 254.7 808.0 256.3C815.2 257.9 815.2 263.6 808.0 265.2C800.8 266.8 780.6 265.1 768.0 265.2C755.4 265.3 747.9 265.6 738.0 265.7C728.1 265.8 722.0 265.9 713.0 265.7C704.0 265.5 697.0 265.1 688.0 264.7C679.0 264.2 672.0 263.6 663.0 263.2C654.0 262.8 647.0 262.9 638.0 262.7C629.0 262.5 622.0 262.4 613.0 262.2C604.0 262.0 594.3 261.8 588.0 261.7C581.7 261.6 579.8 264.1 578.0 261.7C576.2 259.3 576.2 250.9 578.0 248.6Z" fill="#000000"/></g>
<g filter="url(#b2)"><path d="M620.5 268.2C620.5 267.4 630.4 265.3 638.0 264.5C645.6 263.7 654.0 263.9 663.0 264.0C672.0 264.1 680.4 264.1 688.0 265.0C695.6 265.9 705.5 268.1 705.5 269.0C705.5 269.9 695.6 269.8 688.0 270.0C680.4 270.2 672.0 270.1 663.0 270.0C654.0 269.9 645.6 269.8 638.0 269.5C630.4 269.2 620.5 269.1 620.5 268.2Z" fill="#8d8d8d"/><path d="M658.0 268.5C658.0 268.1 666.7 266.8 673.0 266.8C679.3 266.8 693.0 268.1 693.0 268.5C693.0 268.9 679.3 269.2 673.0 269.2C666.7 269.2 658.0 268.9 658.0 268.5Z" fill="#7c7c7c"/><path d="M698.0 269.0C698.0 268.4 708.5 266.9 718.0 266.5C727.5 266.1 741.5 266.5 750.5 266.5C759.5 266.5 757.6 266.5 768.0 266.5C778.4 266.5 800.8 265.9 808.0 266.5C815.2 267.1 815.2 269.4 808.0 270.0C800.8 270.6 778.4 270.0 768.0 270.0C757.6 270.0 759.5 270.0 750.5 270.0C741.5 270.0 727.5 270.2 718.0 270.0C708.5 269.8 698.0 269.6 698.0 269.0Z" fill="#b9b9b9"/></g>
<g filter="url(#b3)"><path d="M96.0 296.5C103.2 295.2 126.1 296.5 136.0 296.5C145.9 296.5 145.2 295.8 151.0 296.5C156.8 297.2 168.5 299.2 168.5 300.5C168.5 301.8 156.8 303.0 151.0 303.5C145.2 304.0 145.9 303.5 136.0 303.5C126.1 303.5 103.2 304.8 96.0 303.5C88.8 302.2 88.8 297.8 96.0 296.5Z" fill="#727272"/><path d="M96.0 326.8C103.2 325.1 124.3 326.8 136.0 326.8C147.7 326.7 152.0 326.0 161.0 326.2C170.0 326.5 177.4 326.9 186.0 328.0C194.6 329.1 208.5 331.1 208.5 332.5C208.5 333.9 194.6 335.3 186.0 336.0C177.4 336.7 170.0 336.3 161.0 336.2C152.0 336.2 147.7 335.8 136.0 335.8C124.3 335.7 103.2 337.4 96.0 335.8C88.8 334.1 88.8 328.4 96.0 326.8Z" fill="#727272"/><path d="M181.0 346.2C181.0 345.0 192.9 343.2 201.0 342.8C209.1 342.3 218.3 342.6 226.0 343.5C233.7 344.4 243.5 346.2 243.5 347.5C243.5 348.8 233.7 350.1 226.0 350.5C218.3 350.9 209.1 350.5 201.0 349.8C192.9 349.0 181.0 347.5 181.0 346.2Z" fill="#727272"/><path d="M156.0 361.2C156.0 360.4 167.9 359.1 176.0 358.8C184.1 358.4 193.8 358.7 201.0 359.2C208.2 359.8 216.0 361.1 216.0 362.0C216.0 362.9 208.2 363.9 201.0 364.2C193.8 364.6 184.1 364.3 176.0 363.8C167.9 363.2 156.0 362.1 156.0 361.2Z" fill="#727272"/><path d="M266.0 292.0C266.0 291.1 277.9 289.7 286.0 289.5C294.1 289.3 303.8 290.2 311.0 291.0C318.2 291.8 326.0 293.0 326.0 293.8C326.0 294.5 318.2 294.9 311.0 295.0C303.8 295.1 294.1 295.0 286.0 294.5C277.9 294.0 266.0 292.9 266.0 292.0Z" fill="#727272"/><path d="M206.0 349.5C206.0 348.6 225.2 346.6 236.0 346.2C246.8 345.9 257.0 346.8 266.0 347.5C275.0 348.2 286.0 349.3 286.0 350.0C286.0 350.7 275.0 351.3 266.0 351.5C257.0 351.7 246.8 351.6 236.0 351.2C225.2 350.9 206.0 350.4 206.0 349.5Z" fill="#727272"/><path d="M161.0 301.2C161.0 300.5 185.0 300.1 198.5 300.0C212.0 299.9 222.1 300.1 236.0 300.5C249.9 300.9 276.0 301.3 276.0 302.0C276.0 302.7 249.9 304.1 236.0 304.5C222.1 304.9 212.0 304.6 198.5 304.0C185.0 303.4 161.0 302.0 161.0 301.2Z" fill="#727272"/><path d="M231.0 285.5C231.0 283.9 241.3 281.7 248.5 281.0C255.7 280.3 264.2 280.6 271.0 281.8C277.8 282.9 286.0 285.9 286.0 287.5C286.0 289.1 277.8 290.3 271.0 290.8C264.2 291.2 255.7 290.9 248.5 290.0C241.3 289.1 231.0 287.1 231.0 285.5Z" fill="#8d8d8d"/><path d="M196.0 313.8C196.0 311.9 204.7 310.2 211.0 310.0C217.3 309.8 225.2 311.2 231.0 312.5C236.8 313.8 243.5 315.6 243.5 317.0C243.5 318.4 236.8 319.5 231.0 320.0C225.2 320.5 217.3 321.1 211.0 320.0C204.7 318.9 196.0 315.6 196.0 313.8Z" fill="#8d8d8d"/><path d="M296.0 340.0C296.0 338.0 305.6 334.3 311.0 334.5C316.4 334.7 326.0 339.3 326.0 341.2C326.0 343.2 316.4 345.7 311.0 345.5C305.6 345.3 296.0 342.0 296.0 340.0Z" fill="#8d8d8d"/><path d="M96.0 355.0C103.2 353.6 124.3 354.9 136.0 355.0C147.7 355.1 151.1 354.8 161.0 355.8C170.9 356.7 191.0 359.1 191.0 360.5C191.0 361.9 170.9 362.9 161.0 363.2C151.1 363.6 147.7 362.6 136.0 362.5C124.3 362.4 103.2 363.9 96.0 362.5C88.8 361.1 88.8 356.4 96.0 355.0Z" fill="#8d8d8d"/><path d="M96.0 273.5C103.2 272.1 122.0 273.4 136.0 273.5C149.9 273.6 160.0 273.7 173.5 274.0C187.0 274.3 192.6 274.7 211.0 275.2C229.4 275.8 262.5 276.1 276.0 277.0C289.5 277.9 286.0 279.1 286.0 280.0C286.0 280.9 289.5 281.6 276.0 282.0C262.5 282.4 229.4 282.2 211.0 282.2C192.6 282.2 187.0 282.1 173.5 282.0C160.0 281.9 149.9 281.6 136.0 281.5C122.0 281.4 103.2 282.9 96.0 281.5C88.8 280.1 88.8 274.9 96.0 273.5Z" fill="#8d8d8d"/></g>
<g filter="url(#b2)"><path d="M96.0 269.5C103.2 268.8 126.1 269.5 136.0 269.5C145.9 269.5 146.1 269.1 151.0 269.5C155.9 269.9 163.5 271.3 163.5 272.0C163.5 272.7 155.9 273.2 151.0 273.5C146.1 273.8 145.9 273.5 136.0 273.5C126.1 273.5 103.2 274.2 96.0 273.5C88.8 272.8 88.8 270.2 96.0 269.5Z" fill="#b9b9b9"/><path d="M96.0 282.8C103.2 282.1 123.8 282.7 136.0 282.8C148.2 282.8 154.5 282.9 163.5 283.2C172.5 283.6 175.2 284.0 186.0 284.8C196.8 285.5 213.2 286.5 223.5 287.5C233.8 288.5 243.5 290.0 243.5 290.5C243.5 291.0 233.8 290.9 223.5 290.5C213.2 290.1 196.8 288.9 186.0 288.2C175.2 287.6 172.5 287.1 163.5 286.8C154.5 286.4 148.2 286.3 136.0 286.2C123.8 286.2 103.2 286.9 96.0 286.2C88.8 285.6 88.8 283.4 96.0 282.8Z" fill="#bbbbbb"/><path d="M96.0 283.2C103.2 282.8 126.1 283.2 136.0 283.2C145.9 283.3 145.8 283.2 151.0 283.5C156.2 283.8 164.8 284.6 164.8 285.0C164.8 285.4 156.2 285.9 151.0 286.0C145.8 286.1 145.9 285.8 136.0 285.8C126.1 285.7 103.2 286.2 96.0 285.8C88.8 285.3 88.8 283.7 96.0 283.2Z" fill="#f2f2f2"/><path d="M168.5 278.8C168.5 277.9 186.3 277.2 198.5 276.5C210.7 275.8 224.8 275.1 236.0 275.0C247.2 274.9 253.3 274.9 261.0 275.8C268.6 276.6 278.5 278.7 278.5 279.5C278.5 280.3 268.6 280.2 261.0 280.2C253.3 280.3 247.2 279.9 236.0 280.0C224.8 280.1 210.7 281.2 198.5 281.0C186.3 280.8 168.5 279.6 168.5 278.8Z" fill="#a9a9a9"/><path d="M278.5 283.0C278.5 282.2 289.1 280.7 298.5 280.2C307.9 279.8 321.6 279.8 331.0 280.2C340.4 280.7 351.0 282.2 351.0 283.0C351.0 283.8 340.4 284.4 331.0 284.8C321.6 285.1 307.9 285.1 298.5 284.8C289.1 284.4 278.5 283.8 278.5 283.0Z" fill="#bbbbbb"/><path d="M341.0 283.8C341.0 283.0 349.0 282.6 353.5 282.5C358.0 282.4 363.8 282.2 366.0 283.0C368.2 283.8 368.2 286.4 366.0 287.0C363.8 287.6 358.0 287.1 353.5 286.5C349.0 285.9 341.0 284.5 341.0 283.8Z" fill="#9a9a9a"/><path d="M153.5 312.0C153.5 311.4 160.2 310.6 166.0 310.2C171.8 309.9 179.7 309.8 186.0 310.2C192.3 310.7 201.0 311.9 201.0 312.5C201.0 313.1 192.3 313.5 186.0 313.8C179.7 314.0 171.8 314.1 166.0 313.8C160.2 313.4 153.5 312.6 153.5 312.0Z" fill="#b9b9b9"/><path d="M226.0 318.0C226.0 317.0 237.7 315.6 248.5 315.2C259.3 314.9 272.5 315.9 286.0 316.0C299.5 316.1 312.2 316.1 323.5 316.0C334.8 315.9 340.9 315.7 348.5 315.2C356.1 314.8 362.9 313.1 366.0 313.8C369.1 314.4 369.1 317.5 366.0 318.8C362.9 320.0 356.1 320.1 348.5 320.8C340.9 321.4 334.8 322.2 323.5 322.5C312.2 322.8 299.5 322.8 286.0 322.5C272.5 322.2 259.3 321.6 248.5 320.8C237.7 319.9 226.0 319.0 226.0 318.0Z" fill="#bbbbbb"/><path d="M278.5 319.5C278.5 319.0 286.3 318.3 293.5 318.0C300.7 317.7 311.5 317.7 318.5 318.0C325.5 318.3 332.2 319.0 332.2 319.5C332.2 320.0 325.5 320.7 318.5 321.0C311.5 321.3 300.7 321.3 293.5 321.0C286.3 320.7 278.5 320.0 278.5 319.5Z" fill="#f2f2f2"/><path d="M148.5 323.8C148.5 323.2 159.2 322.5 166.0 322.2C172.8 322.0 179.7 321.9 186.0 322.2C192.3 322.6 201.0 323.5 201.0 324.0C201.0 324.5 192.3 325.0 186.0 325.2C179.7 325.5 172.8 325.5 166.0 325.2C159.2 325.0 148.5 324.3 148.5 323.8Z" fill="#9a9a9a"/><path d="M211.0 338.8C211.0 337.9 224.8 336.4 236.0 336.0C247.2 335.6 262.2 336.2 273.5 336.5C284.8 336.8 291.3 336.9 298.5 337.5C305.7 338.1 313.5 339.3 313.5 340.0C313.5 340.7 305.7 341.2 298.5 341.5C291.3 341.8 284.8 341.6 273.5 341.5C262.2 341.4 247.2 341.5 236.0 341.0C224.8 340.5 211.0 339.6 211.0 338.8Z" fill="#bbbbbb"/><path d="M326.0 346.2C326.0 345.4 336.3 344.4 343.5 344.0C350.7 343.6 361.9 342.9 366.0 343.8C370.1 344.6 370.1 347.9 366.0 348.8C361.9 349.6 350.7 348.9 343.5 348.5C336.3 348.1 326.0 347.1 326.0 346.2Z" fill="#b9b9b9"/><path d="M96.0 341.0C103.2 340.5 124.3 341.0 136.0 341.0C147.7 341.0 151.6 340.6 161.0 341.0C170.4 341.4 188.5 342.5 188.5 343.0C188.5 343.5 170.4 343.8 161.0 344.0C151.6 344.2 147.7 344.0 136.0 344.0C124.3 344.0 103.2 344.5 96.0 344.0C88.8 343.5 88.8 341.5 96.0 341.0Z" fill="#9a9a9a"/><path d="M96.0 354.8C103.2 354.2 122.0 354.8 136.0 354.8C149.9 354.8 159.6 354.4 173.5 354.8C187.4 355.1 213.5 356.2 213.5 356.8C213.5 357.3 187.4 357.6 173.5 357.8C159.6 357.9 149.9 357.8 136.0 357.8C122.0 357.8 103.2 358.3 96.0 357.8C88.8 357.2 88.8 355.3 96.0 354.8Z" fill="#9a9a9a"/><path d="M206.0 372.0C206.0 371.1 221.1 369.4 231.0 368.8C240.9 368.1 248.8 368.3 261.0 368.2C273.1 368.2 285.0 368.6 298.5 368.5C312.0 368.4 323.9 368.0 336.0 367.8C348.1 367.5 360.6 366.5 366.0 367.2C371.4 368.0 371.4 370.9 366.0 371.8C360.6 372.6 348.1 371.8 336.0 372.2C323.9 372.7 312.0 373.7 298.5 374.0C285.0 374.3 273.1 373.8 261.0 373.8C248.8 373.7 240.9 374.1 231.0 373.8C221.1 373.4 206.0 372.9 206.0 372.0Z" fill="#bbbbbb"/><path d="M253.5 371.2C253.5 370.8 262.2 370.2 268.5 370.0C274.8 369.8 282.6 369.8 288.5 370.0C294.4 370.2 301.0 370.8 301.0 371.2C301.0 371.7 294.4 372.3 288.5 372.5C282.6 372.7 274.8 372.7 268.5 372.5C262.2 372.3 253.5 371.7 253.5 371.2Z" fill="#f2f2f2"/><path d="M96.0 374.2C103.2 373.5 124.3 374.2 136.0 374.2C147.7 374.2 152.0 374.2 161.0 374.2C170.0 374.3 178.3 374.3 186.0 374.8C193.7 375.2 203.5 376.4 203.5 377.0C203.5 377.6 193.7 378.0 186.0 378.2C178.3 378.5 170.0 378.2 161.0 378.2C152.0 378.2 147.7 378.2 136.0 378.2C124.3 378.2 103.2 379.0 96.0 378.2C88.8 377.5 88.8 375.0 96.0 374.2Z" fill="#ffffff"/><path d="M96.0 288.8C103.2 288.1 126.1 288.6 136.0 288.8C145.9 288.9 145.6 289.1 151.0 289.8C156.4 290.4 166.0 291.9 166.0 292.5C166.0 293.1 156.4 293.3 151.0 293.2C145.6 293.2 145.9 292.4 136.0 292.2C126.1 292.1 103.2 292.9 96.0 292.2C88.8 291.6 88.8 289.4 96.0 288.8Z" fill="#656565"/><path d="M146.0 292.0C146.0 291.2 156.3 290.3 163.5 290.2C170.7 290.2 172.9 291.1 186.0 291.8C199.1 292.4 221.6 293.0 236.0 293.8C250.4 294.5 257.4 294.9 266.0 295.8C274.6 296.6 283.5 297.6 283.5 298.2C283.5 298.9 274.6 299.2 266.0 299.2C257.4 299.2 250.4 298.8 236.0 298.2C221.6 297.7 199.1 296.9 186.0 296.2C172.9 295.6 170.7 295.5 163.5 294.8C156.3 294.0 146.0 292.8 146.0 292.0Z" fill="#464646"/><path d="M151.0 305.5C151.0 304.9 158.8 304.1 166.0 303.8C173.2 303.4 183.8 303.4 191.0 303.8C198.2 304.1 206.0 305.1 206.0 305.8C206.0 306.4 198.2 307.0 191.0 307.2C183.8 307.5 173.2 307.6 166.0 307.2C158.8 306.9 151.0 306.1 151.0 305.5Z" fill="#464646"/><path d="M243.5 310.5C243.5 309.9 251.6 309.0 261.0 308.8C270.4 308.5 286.1 308.6 296.0 309.0C305.9 309.4 316.0 310.6 316.0 311.2C316.0 311.9 305.9 312.3 296.0 312.5C286.1 312.7 270.4 312.6 261.0 312.2C251.6 311.9 243.5 311.1 243.5 310.5Z" fill="#565656"/><path d="M151.0 318.0C151.0 317.4 159.7 316.6 166.0 316.2C172.3 315.9 180.2 315.9 186.0 316.2C191.8 316.6 198.5 317.6 198.5 318.2C198.5 318.9 191.8 319.5 186.0 319.8C180.2 320.0 172.3 320.1 166.0 319.8C159.7 319.4 151.0 318.6 151.0 318.0Z" fill="#464646"/><path d="M196.0 331.2C196.0 330.6 209.1 329.8 218.5 329.2C227.9 328.7 239.9 328.0 248.5 328.0C257.1 328.0 266.0 328.8 266.0 329.5C266.0 330.2 257.1 331.4 248.5 332.0C239.9 332.6 227.9 332.9 218.5 332.8C209.1 332.6 196.0 331.9 196.0 331.2Z" fill="#656565"/><path d="M236.0 330.5C236.0 329.8 254.8 328.3 266.0 327.5C277.2 326.7 285.9 326.4 298.5 326.0C311.1 325.6 323.9 325.4 336.0 325.0C348.1 324.6 360.6 323.3 366.0 323.8C371.4 324.2 371.4 326.2 366.0 327.2C360.6 328.3 348.1 328.8 336.0 329.5C323.9 330.2 311.1 330.6 298.5 331.0C285.9 331.4 277.2 331.6 266.0 331.5C254.8 331.4 236.0 331.2 236.0 330.5Z" fill="#464646"/><path d="M261.0 329.2C261.0 328.7 274.8 327.8 286.0 327.2C297.2 326.7 312.2 326.3 323.5 326.2C334.8 326.2 348.5 326.2 348.5 326.8C348.5 327.3 334.8 328.6 323.5 329.2C312.2 329.9 297.2 330.2 286.0 330.2C274.8 330.2 261.0 329.8 261.0 329.2Z" fill="#000000"/><path d="M343.5 337.5C343.5 337.1 351.9 336.5 356.0 336.2C360.1 336.0 364.2 335.8 366.0 336.2C367.8 336.7 367.8 338.3 366.0 338.8C364.2 339.2 360.1 339.0 356.0 338.8C351.9 338.5 343.5 337.9 343.5 337.5Z" fill="#656565"/><path d="M96.0 346.5C103.2 345.9 124.3 346.5 136.0 346.5C147.7 346.5 152.0 346.4 161.0 346.5C170.0 346.6 178.8 346.6 186.0 347.0C193.2 347.4 201.0 348.5 201.0 349.0C201.0 349.5 193.2 349.8 186.0 350.0C178.8 350.2 170.0 350.0 161.0 350.0C152.0 350.0 147.7 350.0 136.0 350.0C124.3 350.0 103.2 350.6 96.0 350.0C88.8 349.4 88.8 347.1 96.0 346.5Z" fill="#464646"/><path d="M196.0 363.5C196.0 362.9 207.4 362.1 216.0 361.8C224.6 361.4 234.5 361.6 243.5 361.5C252.5 361.4 258.4 361.6 266.0 361.2C273.6 360.9 282.4 359.5 286.0 359.5C289.6 359.5 289.6 360.7 286.0 361.5C282.4 362.3 273.6 363.1 266.0 363.8C258.4 364.4 252.5 364.7 243.5 365.0C234.5 365.3 224.6 365.5 216.0 365.2C207.4 365.0 196.0 364.1 196.0 363.5Z" fill="#464646"/><path d="M281.0 359.5C281.0 358.8 296.1 357.3 306.0 356.5C315.9 355.7 325.2 355.5 336.0 355.0C346.8 354.5 360.6 353.1 366.0 353.8C371.4 354.4 371.4 357.6 366.0 358.8C360.6 359.9 346.8 359.7 336.0 360.0C325.2 360.3 315.9 360.6 306.0 360.5C296.1 360.4 281.0 360.2 281.0 359.5Z" fill="#464646"/><path d="M96.0 369.0C103.2 368.5 126.1 369.0 136.0 369.0C145.9 369.0 144.2 368.8 151.0 368.8C157.8 368.7 166.3 368.4 173.5 368.8C180.7 369.1 191.0 370.1 191.0 370.8C191.0 371.4 180.7 372.0 173.5 372.2C166.3 372.5 157.8 372.3 151.0 372.2C144.2 372.2 145.9 372.0 136.0 372.0C126.1 372.0 103.2 372.5 96.0 372.0C88.8 371.5 88.8 369.5 96.0 369.0Z" fill="#464646"/><path d="M226.0 379.0C226.0 378.2 237.7 377.0 248.5 376.5C259.3 376.0 270.2 376.4 286.0 376.2C301.8 376.1 321.6 375.9 336.0 375.8C350.4 375.6 360.6 374.5 366.0 375.2C371.4 376.0 371.4 378.8 366.0 379.8C360.6 380.7 350.4 380.5 336.0 380.8C321.6 381.0 301.8 381.2 286.0 381.2C270.2 381.3 259.3 381.4 248.5 381.0C237.7 380.6 226.0 379.8 226.0 379.0Z" fill="#000000"/><path d="M96.0 380.0C103.2 379.3 122.0 380.0 136.0 380.0C149.9 380.0 160.0 379.8 173.5 380.0C187.0 380.2 200.7 380.5 211.0 381.0C221.3 381.5 231.0 382.5 231.0 383.0C231.0 383.5 221.3 383.8 211.0 384.0C200.7 384.2 187.0 384.0 173.5 384.0C160.0 384.0 149.9 384.0 136.0 384.0C122.0 384.0 103.2 384.7 96.0 384.0C88.8 383.3 88.8 380.7 96.0 380.0Z" fill="#000000"/></g>
<g filter="url(#b3)"><path d="M357.0 277.5C362.4 276.4 377.1 277.0 387.0 277.2C396.9 277.5 404.8 277.9 412.0 278.8C419.2 279.6 427.0 281.1 427.0 282.0C427.0 282.9 419.2 283.4 412.0 283.8C404.8 284.1 396.9 283.8 387.0 283.8C377.1 283.7 362.4 284.6 357.0 283.5C351.6 282.4 351.6 278.6 357.0 277.5Z" fill="#727272"/><path d="M432.0 286.2C432.0 285.4 441.9 284.4 449.5 284.0C457.1 283.6 467.8 283.5 474.5 284.0C481.2 284.5 487.0 286.2 487.0 287.0C487.0 287.8 481.2 288.2 474.5 288.5C467.8 288.8 457.1 288.9 449.5 288.5C441.9 288.1 432.0 287.1 432.0 286.2Z" fill="#727272"/><path d="M452.0 341.2C452.0 339.8 465.5 337.2 474.5 336.5C483.5 335.8 493.4 336.3 502.0 337.2C510.6 338.2 522.0 340.6 522.0 342.0C522.0 343.4 510.6 344.8 502.0 345.2C493.4 345.7 483.5 345.2 474.5 344.5C465.5 343.8 452.0 342.7 452.0 341.2Z" fill="#727272"/><path d="M357.0 370.0C362.4 368.9 377.1 369.9 387.0 370.0C396.9 370.1 404.8 370.0 412.0 370.5C419.2 371.0 427.0 372.1 427.0 373.0C427.0 373.9 419.2 375.0 412.0 375.5C404.8 376.0 396.9 375.9 387.0 376.0C377.1 376.1 362.4 377.1 357.0 376.0C351.6 374.9 351.6 371.1 357.0 370.0Z" fill="#727272"/><path d="M357.0 392.5C371.4 391.8 409.1 393.3 437.0 393.8C464.9 394.2 484.1 394.8 512.0 395.0C539.9 395.2 577.6 394.1 592.0 395.0C606.4 395.9 606.4 399.1 592.0 400.0C577.6 400.9 539.9 400.2 512.0 400.0C484.1 399.8 464.9 399.2 437.0 398.8C409.1 398.3 371.4 398.6 357.0 397.5C342.6 396.4 342.6 393.2 357.0 392.5Z" fill="#727272"/><path d="M474.5 321.2C474.5 318.6 485.2 313.9 492.0 312.5C498.8 311.1 505.7 311.9 512.0 313.8C518.3 315.6 527.0 319.8 527.0 322.5C527.0 325.2 518.3 327.9 512.0 328.8C505.7 329.6 498.8 328.9 492.0 327.5C485.2 326.1 474.5 323.9 474.5 321.2Z" fill="#727272"/><path d="M557.0 342.5C557.0 341.6 568.2 340.4 574.5 340.0C580.8 339.6 588.9 339.1 592.0 340.0C595.1 340.9 595.1 344.1 592.0 345.0C588.9 345.9 580.8 345.4 574.5 345.0C568.2 344.6 557.0 343.4 557.0 342.5Z" fill="#727272"/><path d="M387.0 357.5C387.0 356.6 400.8 355.4 412.0 355.0C423.2 354.6 439.6 355.1 449.5 355.5C459.4 355.9 467.0 356.8 467.0 357.5C467.0 358.2 459.4 359.1 449.5 359.5C439.6 359.9 423.2 360.4 412.0 360.0C400.8 359.6 387.0 358.4 387.0 357.5Z" fill="#727272"/><path d="M407.0 281.2C407.0 280.2 422.1 278.7 432.0 278.2C441.9 277.8 454.4 278.1 462.0 278.8C469.6 279.4 474.5 281.1 474.5 282.0C474.5 282.9 469.6 283.3 462.0 283.8C454.4 284.2 441.9 284.7 432.0 284.2C422.1 283.8 407.0 282.3 407.0 281.2Z" fill="#8d8d8d"/><path d="M357.0 290.2C366.9 289.1 393.1 290.8 412.0 291.0C430.9 291.2 444.0 291.4 462.0 291.5C480.0 291.6 491.8 291.5 512.0 291.5C532.2 291.5 560.1 291.4 574.5 291.5C588.9 291.6 588.9 291.0 592.0 292.0C595.1 293.0 595.1 296.0 592.0 297.0C588.9 298.0 588.9 297.2 574.5 297.5C560.1 297.8 532.2 298.3 512.0 298.5C491.8 298.7 480.0 298.6 462.0 298.5C444.0 298.4 430.9 298.2 412.0 298.0C393.1 297.8 366.9 298.6 357.0 297.2C347.1 295.9 347.1 291.4 357.0 290.2Z" fill="#8d8d8d"/><path d="M387.0 330.0C387.0 328.7 408.8 326.8 424.5 326.0C440.2 325.2 461.0 324.9 474.5 325.5C488.0 326.1 499.5 328.2 499.5 329.5C499.5 330.8 488.0 331.9 474.5 332.5C461.0 333.1 440.2 333.4 424.5 333.0C408.8 332.6 387.0 331.3 387.0 330.0Z" fill="#8d8d8d"/><path d="M502.0 328.8C502.0 326.8 524.0 322.9 537.0 322.0C550.0 321.1 564.6 323.3 574.5 323.8C584.4 324.2 588.9 322.5 592.0 324.2C595.1 326.0 595.1 331.5 592.0 333.2C588.9 335.0 584.4 333.8 574.5 333.8C564.6 333.7 550.0 333.9 537.0 333.0C524.0 332.1 502.0 330.7 502.0 328.8Z" fill="#8d8d8d"/><path d="M357.0 342.5C366.9 340.8 393.1 342.5 412.0 343.0C430.9 343.5 444.0 344.7 462.0 345.5C480.0 346.3 498.5 346.5 512.0 347.5C525.5 348.5 537.0 350.2 537.0 351.2C537.0 352.3 525.5 353.1 512.0 353.5C498.5 353.9 480.0 353.6 462.0 353.5C444.0 353.4 430.9 353.2 412.0 353.0C393.1 352.8 366.9 354.4 357.0 352.5C347.1 350.6 347.1 344.2 357.0 342.5Z" fill="#8d8d8d"/><path d="M512.0 357.5C512.0 356.2 525.8 354.2 537.0 353.5C548.2 352.8 564.6 353.4 574.5 353.5C584.4 353.6 588.9 352.8 592.0 354.0C595.1 355.2 595.1 358.8 592.0 360.0C588.9 361.2 584.4 360.4 574.5 360.5C564.6 360.6 548.2 361.0 537.0 360.5C525.8 360.0 512.0 358.8 512.0 357.5Z" fill="#8d8d8d"/><path d="M357.0 365.8C362.4 364.7 374.9 365.4 387.0 365.8C399.1 366.1 415.5 366.6 424.5 367.5C433.5 368.4 437.0 369.6 437.0 370.5C437.0 371.4 433.5 372.3 424.5 372.5C415.5 372.7 399.1 371.9 387.0 371.8C374.9 371.6 362.4 372.8 357.0 371.8C351.6 370.7 351.6 366.8 357.0 365.8Z" fill="#8d8d8d"/><path d="M424.5 377.5C424.5 375.9 446.2 373.4 462.0 372.5C477.8 371.6 494.0 372.1 512.0 372.5C530.0 372.9 547.6 373.8 562.0 374.5C576.4 375.2 586.6 375.0 592.0 376.2C597.4 377.5 597.4 380.3 592.0 381.2C586.6 382.2 576.4 381.5 562.0 381.5C547.6 381.5 530.0 381.5 512.0 381.5C494.0 381.5 477.8 382.2 462.0 381.5C446.2 380.8 424.5 379.1 424.5 377.5Z" fill="#8d8d8d"/></g>
<g filter="url(#b2)"><path d="M484.5 269.5C484.5 268.5 491.6 266.7 497.0 266.2C502.4 265.8 509.1 266.1 514.5 267.0C519.9 267.9 527.0 269.9 527.0 271.0C527.0 272.1 519.9 272.9 514.5 273.0C509.1 273.1 502.4 272.4 497.0 271.8C491.6 271.1 484.5 270.5 484.5 269.5Z" fill="#a9a9a9"/><path d="M492.0 269.0C492.0 268.6 498.4 267.5 502.0 267.2C505.6 267.0 508.9 267.3 512.0 267.8C515.1 268.2 519.5 269.1 519.5 269.5C519.5 269.9 515.1 270.2 512.0 270.2C508.9 270.3 505.6 270.0 502.0 269.8C498.4 269.5 492.0 269.4 492.0 269.0Z" fill="#8d8d8d"/><path d="M512.0 273.0C512.0 271.8 523.0 269.9 532.0 269.2C541.0 268.6 551.2 269.1 562.0 269.2C572.8 269.4 586.6 268.8 592.0 270.0C597.4 271.2 597.4 275.0 592.0 276.0C586.6 277.0 572.8 275.8 562.0 275.8C551.2 275.7 541.0 276.2 532.0 275.8C523.0 275.3 512.0 274.2 512.0 273.0Z" fill="#b9b9b9"/><path d="M519.5 273.0C519.5 272.4 527.8 271.4 534.5 271.0C541.2 270.6 550.7 270.6 557.0 271.0C563.3 271.4 569.5 272.4 569.5 273.0C569.5 273.6 563.3 274.2 557.0 274.5C550.7 274.8 541.2 274.8 534.5 274.5C527.8 274.2 519.5 273.6 519.5 273.0Z" fill="#f2f2f2"/><path d="M357.0 286.0C362.4 285.5 377.1 285.6 387.0 286.0C396.9 286.4 412.0 287.5 412.0 288.0C412.0 288.5 396.9 288.8 387.0 289.0C377.1 289.2 362.4 289.5 357.0 289.0C351.6 288.5 351.6 286.5 357.0 286.0Z" fill="#a9a9a9"/><path d="M357.0 298.8C362.4 298.3 376.6 298.5 387.0 298.8C397.4 299.0 414.5 299.6 414.5 300.0C414.5 300.4 397.4 301.0 387.0 301.2C376.6 301.5 362.4 301.7 357.0 301.2C351.6 300.8 351.6 299.2 357.0 298.8Z" fill="#9a9a9a"/><path d="M419.5 296.5C419.5 295.8 437.4 294.6 449.5 294.0C461.6 293.4 477.6 293.3 487.0 293.0C496.4 292.7 499.3 292.1 502.0 292.5C504.7 292.9 504.7 294.7 502.0 295.5C499.3 296.3 496.4 296.6 487.0 297.0C477.6 297.4 461.6 298.1 449.5 298.0C437.4 297.9 419.5 297.2 419.5 296.5Z" fill="#a9a9a9"/><path d="M492.0 294.0C492.0 293.3 503.0 291.8 512.0 291.2C521.0 290.7 533.0 291.0 542.0 291.0C551.0 291.0 556.1 291.1 562.0 291.5C567.9 291.9 574.5 292.5 574.5 293.0C574.5 293.5 567.9 294.1 562.0 294.5C556.1 294.9 551.0 294.9 542.0 295.0C533.0 295.1 521.0 295.4 512.0 295.2C503.0 295.1 492.0 294.7 492.0 294.0Z" fill="#b9b9b9"/><path d="M357.0 313.2C363.3 312.3 379.4 312.7 392.0 312.5C404.6 312.3 414.4 312.1 427.0 312.0C439.6 311.9 451.6 311.6 462.0 311.8C472.4 311.9 484.5 312.3 484.5 313.0C484.5 313.7 472.4 315.0 462.0 315.8C451.6 316.5 439.6 316.7 427.0 317.0C414.4 317.3 404.6 317.4 392.0 317.5C379.4 317.6 363.3 318.5 357.0 317.8C350.7 317.0 350.7 314.2 357.0 313.2Z" fill="#bbbbbb"/><path d="M387.0 315.0C387.0 314.6 393.6 314.0 399.5 313.8C405.4 313.5 413.6 313.4 419.5 313.5C425.4 313.6 432.0 314.1 432.0 314.5C432.0 314.9 425.4 315.7 419.5 316.0C413.6 316.3 405.4 316.4 399.5 316.2C393.6 316.1 387.0 315.4 387.0 315.0Z" fill="#f2f2f2"/><path d="M509.5 308.8C509.5 307.9 522.5 306.6 532.0 306.0C541.5 305.4 551.2 305.6 562.0 305.5C572.8 305.4 586.6 304.6 592.0 305.5C597.4 306.4 597.4 309.6 592.0 310.5C586.6 311.4 572.8 310.5 562.0 310.5C551.2 310.5 541.5 310.8 532.0 310.5C522.5 310.2 509.5 309.6 509.5 308.8Z" fill="#f2f2f2"/><path d="M399.5 329.2C399.5 328.6 414.1 327.9 424.5 327.5C434.9 327.1 447.1 327.0 457.0 327.2C466.9 327.5 479.5 328.4 479.5 329.0C479.5 329.6 466.9 330.4 457.0 330.8C447.1 331.1 434.9 331.3 424.5 331.0C414.1 330.7 399.5 329.9 399.5 329.2Z" fill="#a9a9a9"/><path d="M509.5 324.5C509.5 323.9 522.5 322.9 532.0 322.5C541.5 322.1 553.0 322.1 562.0 322.5C571.0 322.9 582.0 323.9 582.0 324.5C582.0 325.1 571.0 325.7 562.0 326.0C553.0 326.3 541.5 326.3 532.0 326.0C522.5 325.7 509.5 325.1 509.5 324.5Z" fill="#a9a9a9"/><path d="M534.5 334.5C534.5 334.0 544.4 333.0 552.0 333.0C559.6 333.0 577.0 334.0 577.0 334.5C577.0 335.0 559.6 336.0 552.0 336.0C544.4 336.0 534.5 335.0 534.5 334.5Z" fill="#9a9a9a"/><path d="M357.0 344.8C361.5 343.8 372.1 344.6 382.0 344.8C391.9 344.9 402.1 345.3 412.0 345.8C421.9 346.2 430.7 346.7 437.0 347.2C443.3 347.8 447.0 348.3 447.0 348.8C447.0 349.2 443.3 349.5 437.0 349.8C430.7 350.0 421.9 350.2 412.0 350.2C402.1 350.3 391.9 350.2 382.0 350.2C372.1 350.2 361.5 351.2 357.0 350.2C352.5 349.3 352.5 345.7 357.0 344.8Z" fill="#bbbbbb"/><path d="M364.5 347.5C364.5 347.1 370.0 346.7 374.5 346.5C379.0 346.3 385.4 346.3 389.5 346.5C393.6 346.7 397.0 347.1 397.0 347.5C397.0 347.9 393.6 348.3 389.5 348.5C385.4 348.7 379.0 348.7 374.5 348.5C370.0 348.3 364.5 347.9 364.5 347.5Z" fill="#f2f2f2"/><path d="M432.0 350.0C432.0 349.5 446.2 348.4 457.0 348.5C467.8 348.6 492.0 350.0 492.0 350.5C492.0 351.0 467.8 351.6 457.0 351.5C446.2 351.4 432.0 350.5 432.0 350.0Z" fill="#9a9a9a"/><path d="M529.5 356.8C529.5 356.1 541.4 355.3 549.5 355.0C557.6 354.7 566.9 355.0 574.5 355.0C582.1 355.0 588.9 354.7 592.0 355.2C595.1 355.8 595.1 357.7 592.0 358.2C588.9 358.8 582.1 358.5 574.5 358.5C566.9 358.5 557.6 358.8 549.5 358.5C541.4 358.2 529.5 357.4 529.5 356.8Z" fill="#a9a9a9"/><path d="M457.0 377.0C457.0 376.2 472.1 374.7 482.0 374.2C491.9 373.8 502.1 374.2 512.0 374.5C521.9 374.8 529.8 375.2 537.0 376.0C544.2 376.8 552.0 378.0 552.0 378.8C552.0 379.5 544.2 379.9 537.0 380.0C529.8 380.1 521.9 379.7 512.0 379.5C502.1 379.3 491.9 379.2 482.0 378.8C472.1 378.3 457.0 377.8 457.0 377.0Z" fill="#b9b9b9"/><path d="M357.0 379.2C361.1 378.7 370.5 378.7 379.5 378.5C388.5 378.3 397.6 378.2 407.0 378.2C416.4 378.3 423.9 378.5 432.0 379.0C440.1 379.5 452.0 380.5 452.0 381.0C452.0 381.5 440.1 381.8 432.0 382.0C423.9 382.2 416.4 382.2 407.0 382.2C397.6 382.2 388.5 382.1 379.5 382.0C370.5 381.9 361.1 382.2 357.0 381.8C352.9 381.3 352.9 379.8 357.0 379.2Z" fill="#f2f2f2"/><path d="M357.0 366.5C360.6 366.0 370.2 366.2 377.0 366.5C383.8 366.8 394.5 367.7 394.5 368.2C394.5 368.8 383.8 369.3 377.0 369.5C370.2 369.7 360.6 370.0 357.0 369.5C353.4 369.0 353.4 367.0 357.0 366.5Z" fill="#9a9a9a"/><path d="M352.0 266.8C353.8 265.2 353.4 266.8 362.0 267.1C370.6 267.3 386.0 267.6 399.5 268.1C413.0 268.5 423.5 268.8 437.0 269.6C450.5 270.3 463.2 271.1 474.5 272.3C485.8 273.5 488.2 275.3 499.5 276.3C510.8 277.3 520.4 277.2 537.0 277.8C553.6 278.4 582.1 278.0 592.0 279.8C601.9 281.6 599.6 286.4 592.0 287.7C584.4 289.0 563.9 287.2 549.5 286.9C535.1 286.7 522.4 286.6 512.0 286.2C501.6 285.8 498.8 285.6 492.0 284.7C485.2 283.8 482.1 282.3 474.5 281.2C466.9 280.1 460.8 279.2 449.5 278.4C438.2 277.7 429.6 277.6 412.0 277.2C394.4 276.8 362.8 278.1 352.0 276.2C341.2 274.3 350.2 268.4 352.0 266.8Z" fill="#000000"/><path d="M367.0 308.0C367.0 307.3 374.4 306.3 387.0 305.5C399.6 304.7 421.2 304.2 437.0 303.5C452.8 302.8 464.6 302.1 474.5 301.8C484.4 301.4 488.9 301.2 492.0 301.5C495.1 301.8 495.1 302.7 492.0 303.5C488.9 304.3 484.4 305.0 474.5 305.8C464.6 306.5 452.8 306.8 437.0 307.5C421.2 308.2 399.6 309.4 387.0 309.5C374.4 309.6 367.0 308.7 367.0 308.0Z" fill="#464646"/><path d="M474.5 303.0C474.5 302.5 484.4 300.7 492.0 300.0C499.6 299.3 509.8 299.0 517.0 299.0C524.2 299.0 532.0 299.5 532.0 300.0C532.0 300.5 524.2 301.5 517.0 302.0C509.8 302.5 499.6 302.8 492.0 303.0C484.4 303.2 474.5 303.5 474.5 303.0Z" fill="#656565"/><path d="M512.0 300.0C512.0 299.4 523.0 298.2 532.0 297.8C541.0 297.3 553.0 297.3 562.0 297.8C571.0 298.2 582.0 299.4 582.0 300.0C582.0 300.6 571.0 301.0 562.0 301.2C553.0 301.5 541.0 301.5 532.0 301.2C523.0 301.0 512.0 300.6 512.0 300.0Z" fill="#464646"/><path d="M504.5 316.5C504.5 315.6 521.6 314.2 532.0 313.5C542.4 312.8 551.2 312.9 562.0 312.8C572.8 312.6 586.6 311.7 592.0 312.8C597.4 313.8 597.4 317.7 592.0 318.8C586.6 319.8 572.8 318.8 562.0 318.8C551.2 318.7 542.4 318.9 532.0 318.5C521.6 318.1 504.5 317.4 504.5 316.5Z" fill="#000000"/><path d="M357.0 324.0C362.4 323.0 372.6 323.1 387.0 322.5C401.4 321.9 421.2 320.9 437.0 320.5C452.8 320.1 464.6 319.9 474.5 320.0C484.4 320.1 492.0 320.6 492.0 321.2C492.0 321.9 484.4 322.9 474.5 323.5C464.6 324.1 452.8 324.0 437.0 324.5C421.2 325.0 401.4 325.9 387.0 326.5C372.6 327.1 362.4 328.4 357.0 328.0C351.6 327.6 351.6 325.0 357.0 324.0Z" fill="#464646"/><path d="M357.0 336.2C364.6 335.5 382.9 336.1 399.5 335.8C416.1 335.4 436.0 334.5 449.5 334.5C463.0 334.5 474.5 334.9 474.5 335.5C474.5 336.1 463.0 337.3 449.5 338.0C436.0 338.7 416.1 338.9 399.5 339.2C382.9 339.6 364.6 340.3 357.0 339.8C349.4 339.2 349.4 337.0 357.0 336.2Z" fill="#464646"/><path d="M357.0 354.8C361.5 353.8 374.8 354.3 382.0 354.8C389.2 355.2 397.0 356.5 397.0 357.5C397.0 358.5 389.2 359.8 382.0 360.2C374.8 360.7 361.5 361.2 357.0 360.2C352.5 359.3 352.5 355.7 357.0 354.8Z" fill="#464646"/><path d="M387.0 357.0C387.0 356.1 402.1 354.5 412.0 354.0C421.9 353.5 433.4 353.6 442.0 354.0C450.6 354.4 459.5 355.4 459.5 356.2C459.5 357.1 450.6 358.0 442.0 358.5C433.4 359.0 421.9 359.3 412.0 359.0C402.1 358.7 387.0 357.9 387.0 357.0Z" fill="#565656"/><path d="M504.5 341.5C504.5 341.0 515.0 340.1 524.5 339.8C534.0 339.4 547.5 339.4 557.0 339.8C566.5 340.1 577.0 341.0 577.0 341.5C577.0 342.0 566.5 342.5 557.0 342.8C547.5 343.0 534.0 343.0 524.5 342.8C515.0 342.5 504.5 342.0 504.5 341.5Z" fill="#464646"/><path d="M419.5 365.5C419.5 364.9 432.4 364.4 444.5 364.5C456.6 364.6 470.4 365.5 487.0 366.2C503.6 367.0 518.1 367.9 537.0 368.8C555.9 369.6 582.1 370.0 592.0 371.0C601.9 372.0 601.9 374.3 592.0 374.5C582.1 374.7 555.9 373.1 537.0 372.2C518.1 371.4 503.6 370.5 487.0 369.8C470.4 369.0 456.6 368.8 444.5 368.0C432.4 367.2 419.5 366.1 419.5 365.5Z" fill="#464646"/><path d="M367.0 375.2C367.0 374.7 375.7 374.0 382.0 373.8C388.3 373.5 396.1 373.4 402.0 373.8C407.9 374.1 414.5 375.0 414.5 375.5C414.5 376.0 407.9 376.5 402.0 376.8C396.1 377.0 388.3 377.0 382.0 376.8C375.7 376.5 367.0 375.8 367.0 375.2Z" fill="#656565"/><path d="M564.5 349.5C564.5 349.0 572.0 348.3 577.0 348.0C582.0 347.7 589.3 347.5 592.0 348.0C594.7 348.5 594.7 350.5 592.0 351.0C589.3 351.5 582.0 351.3 577.0 351.0C572.0 350.7 564.5 350.0 564.5 349.5Z" fill="#656565"/></g>
<g filter="url(#b3)"><path d="M628.0 319.5C628.0 317.7 642.0 314.9 650.5 314.0C659.0 313.1 667.4 313.4 675.5 314.5C683.6 315.6 695.5 318.2 695.5 320.0C695.5 321.8 683.6 323.8 675.5 324.5C667.4 325.2 659.0 324.9 650.5 324.0C642.0 323.1 628.0 321.3 628.0 319.5Z" fill="#727272"/><path d="M718.0 302.5C718.0 298.4 734.0 292.5 743.0 290.0C752.0 287.5 756.3 289.0 768.0 288.8C779.7 288.5 800.8 284.2 808.0 288.8C815.2 293.2 815.2 309.2 808.0 313.8C800.8 318.2 779.7 314.0 768.0 313.8C756.3 313.5 752.0 314.5 743.0 312.5C734.0 310.5 718.0 306.6 718.0 302.5Z" fill="#6b6b6b"/><path d="M633.0 345.0C633.0 343.0 643.8 340.5 650.5 339.5C657.2 338.5 664.6 338.4 670.5 339.5C676.4 340.6 683.0 343.5 683.0 345.5C683.0 347.5 676.4 349.6 670.5 350.5C664.6 351.4 657.2 351.5 650.5 350.5C643.8 349.5 633.0 347.0 633.0 345.0Z" fill="#727272"/><path d="M583.0 296.2C586.6 295.4 596.7 295.8 603.0 296.2C609.3 296.7 618.0 298.1 618.0 299.0C618.0 299.9 609.3 300.8 603.0 301.2C596.7 301.7 586.6 302.1 583.0 301.2C579.4 300.4 579.4 297.1 583.0 296.2Z" fill="#727272"/><path d="M583.0 271.8C592.9 269.9 614.6 270.8 638.0 270.8C661.4 270.7 689.6 271.1 713.0 271.5C736.4 271.9 750.9 272.9 768.0 273.2C785.1 273.6 800.8 271.3 808.0 273.2C815.2 275.2 815.2 282.3 808.0 284.2C800.8 286.2 785.1 284.4 768.0 284.2C750.9 284.1 736.4 283.9 713.0 283.5C689.6 283.1 661.4 282.2 638.0 281.8C614.6 281.3 592.9 282.6 583.0 280.8C573.1 278.9 573.1 273.6 583.0 271.8Z" fill="#8d8d8d"/><path d="M603.0 303.8C603.0 302.5 622.7 300.7 638.0 299.8C653.3 298.8 672.2 299.2 688.0 298.5C703.8 297.8 712.0 296.4 725.5 296.0C739.0 295.6 755.4 296.1 763.0 296.2C770.6 296.4 759.9 296.7 768.0 296.8C776.1 296.8 800.8 296.0 808.0 296.8C815.2 297.5 815.2 300.0 808.0 300.8C800.8 301.5 776.1 300.7 768.0 300.8C759.9 300.8 770.6 300.8 763.0 301.2C755.4 301.7 739.0 302.2 725.5 303.0C712.0 303.8 703.8 304.8 688.0 305.5C672.2 306.2 653.3 307.1 638.0 306.8C622.7 306.4 603.0 305.0 603.0 303.8Z" fill="#8d8d8d"/><path d="M583.0 327.8C592.9 326.4 619.1 327.2 638.0 327.2C656.9 327.3 670.0 327.5 688.0 328.0C706.0 328.5 725.4 329.1 738.0 330.2C750.6 331.4 758.0 333.2 758.0 334.5C758.0 335.8 750.6 336.8 738.0 337.2C725.4 337.7 706.0 337.4 688.0 337.0C670.0 336.6 656.9 335.7 638.0 335.2C619.1 334.8 592.9 336.1 583.0 334.8C573.1 333.4 573.1 329.1 583.0 327.8Z" fill="#8d8d8d"/><path d="M583.0 353.5C592.9 352.1 619.1 353.4 638.0 353.8C656.9 354.1 670.0 355.3 688.0 355.5C706.0 355.7 723.6 355.1 738.0 355.0C752.4 354.9 755.4 354.8 768.0 354.8C780.6 354.7 800.8 353.3 808.0 354.8C815.2 356.2 815.2 361.3 808.0 362.8C800.8 364.2 780.6 362.5 768.0 362.8C755.4 363.0 752.4 363.7 738.0 364.0C723.6 364.3 706.0 364.5 688.0 364.5C670.0 364.5 656.9 364.3 638.0 363.8C619.1 363.2 592.9 363.3 583.0 361.5C573.1 359.7 573.1 354.9 583.0 353.5Z" fill="#8d8d8d"/></g>
<g filter="url(#b2)"><path d="M583.0 273.0C588.4 272.3 603.1 272.9 613.0 273.0C622.9 273.1 633.5 272.9 638.0 273.5C642.5 274.1 642.5 275.9 638.0 276.5C633.5 277.1 622.9 276.9 613.0 277.0C603.1 277.1 588.4 277.7 583.0 277.0C577.6 276.3 577.6 273.7 583.0 273.0Z" fill="#9a9a9a"/><path d="M625.5 276.5C625.5 275.3 641.8 273.2 653.0 272.2C664.2 271.3 675.0 271.4 688.0 271.0C701.0 270.6 714.2 270.3 725.5 270.0C736.8 269.7 742.9 269.6 750.5 269.5C758.1 269.4 757.6 269.5 768.0 269.5C778.4 269.5 800.8 268.6 808.0 269.5C815.2 270.4 815.2 273.6 808.0 274.5C800.8 275.4 778.4 274.3 768.0 274.5C757.6 274.7 758.1 275.1 750.5 275.5C742.9 275.9 736.8 276.6 725.5 277.0C714.2 277.4 701.0 277.7 688.0 278.0C675.0 278.3 664.2 279.0 653.0 278.8C641.8 278.5 625.5 277.7 625.5 276.5Z" fill="#bbbbbb"/><path d="M748.0 270.5C748.0 270.0 759.4 269.3 763.0 269.0C766.6 268.7 759.9 269.0 768.0 269.0C776.1 269.0 800.8 268.5 808.0 269.0C815.2 269.5 815.2 271.5 808.0 272.0C800.8 272.5 776.1 272.0 768.0 272.0C759.9 272.0 766.6 272.3 763.0 272.0C759.4 271.7 748.0 271.0 748.0 270.5Z" fill="#f2f2f2"/><path d="M613.0 303.5C613.0 302.9 627.2 301.9 638.0 301.5C648.8 301.1 663.5 301.1 673.0 301.2C682.5 301.4 690.5 301.9 690.5 302.5C690.5 303.1 682.5 304.3 673.0 304.8C663.5 305.2 648.8 305.2 638.0 305.0C627.2 304.8 613.0 304.1 613.0 303.5Z" fill="#a9a9a9"/><path d="M583.0 307.2C585.2 306.7 591.9 307.0 595.5 307.2C599.1 307.5 603.0 308.2 603.0 308.8C603.0 309.3 599.1 310.0 595.5 310.2C591.9 310.5 585.2 310.8 583.0 310.2C580.8 309.7 580.8 307.8 583.0 307.2Z" fill="#b9b9b9"/><path d="M593.0 330.5C593.0 329.7 602.6 328.6 613.0 328.2C623.4 327.9 640.1 328.2 650.5 328.5C660.9 328.8 664.2 329.3 670.5 329.8C676.8 330.2 685.5 330.8 685.5 331.2C685.5 331.7 676.8 331.9 670.5 332.2C664.2 332.6 660.9 332.9 650.5 333.0C640.1 333.1 623.4 333.2 613.0 332.8C602.6 332.3 593.0 331.3 593.0 330.5Z" fill="#b9b9b9"/><path d="M725.5 325.0C725.5 324.5 740.4 323.8 748.0 323.5C755.6 323.2 757.2 323.5 768.0 323.5C778.8 323.5 800.8 323.0 808.0 323.5C815.2 324.0 815.2 326.0 808.0 326.5C800.8 327.0 778.8 326.5 768.0 326.5C757.2 326.5 755.6 326.8 748.0 326.5C740.4 326.2 725.5 325.5 725.5 325.0Z" fill="#9a9a9a"/><path d="M735.5 338.8C735.5 338.2 747.1 337.5 753.0 337.2C758.9 337.0 758.1 337.2 768.0 337.2C777.9 337.2 800.8 336.7 808.0 337.2C815.2 337.8 815.2 339.7 808.0 340.2C800.8 340.8 777.9 340.2 768.0 340.2C758.1 340.2 758.9 340.5 753.0 340.2C747.1 340.0 735.5 339.3 735.5 338.8Z" fill="#9a9a9a"/><path d="M583.0 355.0C588.4 354.4 602.6 354.7 613.0 355.0C623.4 355.3 640.5 356.1 640.5 356.8C640.5 357.4 623.4 358.2 613.0 358.5C602.6 358.8 588.4 359.1 583.0 358.5C577.6 357.9 577.6 355.6 583.0 355.0Z" fill="#9a9a9a"/><path d="M618.0 365.0C618.0 364.3 629.9 361.8 638.0 360.5C646.1 359.2 654.9 358.5 663.0 358.0C671.1 357.5 683.0 356.8 683.0 357.5C683.0 358.2 671.1 360.7 663.0 362.0C654.9 363.3 646.1 364.0 638.0 364.5C629.9 365.0 618.0 365.7 618.0 365.0Z" fill="#b9b9b9"/><path d="M685.5 358.8C685.5 358.0 701.3 356.6 713.0 356.0C724.7 355.4 740.6 355.7 750.5 355.5C760.4 355.3 757.6 355.1 768.0 355.0C778.4 354.9 800.8 354.3 808.0 355.0C815.2 355.7 815.2 358.3 808.0 359.0C800.8 359.7 778.4 358.9 768.0 359.0C757.6 359.1 760.4 359.3 750.5 359.5C740.6 359.7 724.7 360.1 713.0 360.0C701.3 359.9 685.5 359.5 685.5 358.8Z" fill="#9a9a9a"/><path d="M630.5 379.5C630.5 378.9 636.5 377.8 640.5 377.8C644.5 377.8 653.0 378.9 653.0 379.5C653.0 380.1 644.5 381.2 640.5 381.2C636.5 381.2 630.5 380.1 630.5 379.5Z" fill="#f2f2f2"/><path d="M713.0 382.0C713.0 381.4 724.0 380.2 733.0 379.8C742.0 379.3 756.7 379.8 763.0 379.8C769.3 379.8 759.9 379.8 768.0 379.8C776.1 379.8 800.8 379.1 808.0 379.8C815.2 380.4 815.2 382.6 808.0 383.2C800.8 383.9 776.1 383.2 768.0 383.2C759.9 383.2 769.3 383.2 763.0 383.2C756.7 383.2 742.0 383.5 733.0 383.2C724.0 383.0 713.0 382.6 713.0 382.0Z" fill="#f2f2f2"/><path d="M583.0 279.8C587.5 279.2 599.9 280.5 608.0 281.2C616.1 282.0 624.4 283.1 628.0 284.0C631.6 284.9 631.6 285.7 628.0 286.0C624.4 286.3 616.1 286.1 608.0 285.8C599.9 285.4 587.5 285.3 583.0 284.2C578.5 283.2 578.5 280.3 583.0 279.8Z" fill="#000000"/><path d="M583.0 279.8C592.9 279.7 619.1 282.6 638.0 284.0C656.9 285.4 670.0 286.0 688.0 287.2C706.0 288.5 725.9 289.7 738.0 291.0C750.1 292.3 755.5 293.5 755.5 294.2C755.5 295.0 750.1 295.4 738.0 295.0C725.9 294.6 706.0 292.9 688.0 291.8C670.0 290.6 656.9 289.9 638.0 288.5C619.1 287.1 592.9 285.8 583.0 284.2C573.1 282.7 573.1 279.8 583.0 279.8Z" fill="#464646"/><path d="M643.0 311.5C643.0 310.8 652.6 309.7 663.0 309.2C673.4 308.8 690.1 308.8 700.5 309.2C710.9 309.7 720.5 311.0 720.5 311.8C720.5 312.5 710.9 313.0 700.5 313.2C690.1 313.5 673.4 313.6 663.0 313.2C652.6 312.9 643.0 312.2 643.0 311.5Z" fill="#464646"/><path d="M583.0 313.5C587.5 312.5 599.9 313.2 608.0 313.5C616.1 313.8 622.1 314.4 628.0 315.0C633.9 315.6 640.5 316.2 640.5 316.8C640.5 317.3 633.9 317.6 628.0 318.0C622.1 318.4 616.1 318.8 608.0 319.0C599.9 319.2 587.5 320.0 583.0 319.0C578.5 318.0 578.5 314.5 583.0 313.5Z" fill="#000000"/><path d="M735.5 332.0C735.5 331.5 744.6 330.8 750.5 330.5C756.4 330.2 757.6 330.5 768.0 330.5C778.4 330.5 800.8 330.0 808.0 330.5C815.2 331.0 815.2 333.0 808.0 333.5C800.8 334.0 778.4 333.5 768.0 333.5C757.6 333.5 756.4 333.8 750.5 333.5C744.6 333.2 735.5 332.5 735.5 332.0Z" fill="#656565"/><path d="M675.5 344.0C675.5 343.3 689.2 341.4 700.5 341.2C711.8 341.1 725.9 342.1 738.0 343.0C750.1 343.9 755.4 345.5 768.0 346.0C780.6 346.5 800.8 345.3 808.0 346.0C815.2 346.7 815.2 349.3 808.0 350.0C800.8 350.7 780.6 350.5 768.0 350.0C755.4 349.5 750.1 347.9 738.0 347.0C725.9 346.1 711.8 345.8 700.5 345.2C689.2 344.7 675.5 344.7 675.5 344.0Z" fill="#464646"/><path d="M583.0 346.5C588.4 345.6 604.0 345.3 613.0 344.8C622.0 344.2 627.6 343.4 633.0 343.2C638.4 343.1 643.0 343.5 643.0 344.0C643.0 344.5 638.4 345.5 633.0 346.2C627.6 347.0 622.0 347.6 613.0 348.2C604.0 348.9 588.4 350.3 583.0 350.0C577.6 349.7 577.6 347.4 583.0 346.5Z" fill="#464646"/><path d="M595.5 373.5C595.5 373.0 609.5 370.9 618.0 369.8C626.5 368.6 634.5 367.7 643.0 367.0C651.5 366.3 665.5 365.5 665.5 366.0C665.5 366.5 651.5 368.8 643.0 370.0C634.5 371.2 626.5 372.1 618.0 372.8C609.5 373.4 595.5 374.0 595.5 373.5Z" fill="#464646"/><path d="M623.0 375.0C623.0 374.5 639.7 373.0 650.5 372.2C661.3 371.5 673.5 371.0 683.0 371.0C692.5 371.0 703.0 371.5 703.0 372.0C703.0 372.5 692.5 373.4 683.0 374.0C673.5 374.6 661.3 375.1 650.5 375.2C639.7 375.4 623.0 375.5 623.0 375.0Z" fill="#000000"/><path d="M668.0 378.0C668.0 377.3 683.1 375.9 693.0 375.5C702.9 375.1 713.5 375.1 723.0 375.5C732.5 375.9 745.5 377.3 745.5 378.0C745.5 378.7 732.5 379.2 723.0 379.5C713.5 379.8 702.9 379.8 693.0 379.5C683.1 379.2 668.0 378.7 668.0 378.0Z" fill="#000000"/><path d="M748.0 382.5C748.0 382.0 759.4 380.9 763.0 380.5C766.6 380.1 759.9 380.1 768.0 380.0C776.1 379.9 800.8 379.5 808.0 380.0C815.2 380.5 815.2 382.5 808.0 383.0C800.8 383.5 776.1 382.9 768.0 383.0C759.9 383.1 766.6 383.6 763.0 383.5C759.4 383.4 748.0 383.0 748.0 382.5Z" fill="#000000"/></g>
<g filter="url(#b4)"><path d="M182.0 408.6C182.8 407.3 189.5 408.6 192.6 409.8C195.8 411.0 197.6 412.7 199.7 415.1C201.8 417.5 205.1 421.8 204.1 423.1C203.2 424.4 197.3 423.3 194.4 422.2C191.5 421.1 190.4 419.3 188.2 416.9C186.0 414.4 181.2 409.8 182.0 408.6Z" fill="#838383"/><path d="M194.4 398.3C195.4 398.2 201.8 403.6 205.0 404.5C208.2 405.4 209.6 403.9 212.1 403.3C214.7 402.6 215.0 401.2 219.2 401.0C223.3 400.7 230.3 401.1 235.1 401.8C239.9 402.6 242.9 405.1 245.7 405.4C248.6 405.6 249.1 403.4 251.0 403.3C253.0 403.1 254.8 403.2 256.4 404.5C257.9 405.8 259.6 408.0 259.9 410.7C260.2 413.4 259.4 416.7 258.1 419.5C256.8 422.4 255.0 424.1 252.8 426.6C250.6 429.2 248.9 431.3 245.7 433.7C242.5 436.1 238.9 438.0 235.1 439.9C231.3 441.8 228.3 442.7 224.5 444.3C220.7 445.9 217.7 447.2 213.9 448.8C210.1 450.3 206.4 451.4 203.3 453.2C200.1 454.9 197.1 457.1 196.2 458.5C195.2 459.9 195.4 460.9 197.9 461.1C200.5 461.4 206.2 460.2 210.3 459.9C214.5 459.6 217.1 459.0 221.0 459.4C224.8 459.8 228.1 460.9 231.6 462.0C235.1 463.1 238.4 464.3 240.4 465.6C242.5 466.8 243.4 465.2 243.1 469.1C242.8 473.0 249.6 483.8 238.7 487.0C227.7 490.2 192.4 490.5 182.0 487.0C171.7 483.5 182.1 471.2 181.1 467.3C180.2 463.5 178.5 466.4 176.7 465.6C175.0 464.8 171.7 464.3 171.4 462.9C171.1 461.5 172.4 459.5 174.9 457.6C177.5 455.7 181.7 454.5 185.6 452.3C189.4 450.1 192.4 447.4 196.2 445.2C200.0 443.0 203.0 442.0 206.8 439.9C210.6 437.8 213.6 435.9 217.4 433.7C221.2 431.5 227.4 429.1 228.0 427.5C228.7 425.9 223.5 426.3 221.0 424.9C218.4 423.4 216.4 421.8 213.9 419.5C211.3 417.3 209.3 415.0 206.8 412.5C204.2 409.9 201.9 407.9 199.7 405.4C197.5 402.8 193.5 398.5 194.4 398.3Z" fill="#838383"/><path d="M217.4 414.2C217.6 412.9 218.6 411.4 220.1 410.7C221.5 410.0 223.8 409.7 225.4 410.2C227.0 410.6 228.4 412.0 228.9 413.4C229.4 414.7 229.0 416.7 228.0 417.8C227.1 418.9 225.2 419.5 223.6 419.5C222.0 419.6 220.3 419.1 219.2 418.1C218.1 417.2 217.3 415.6 217.4 414.2Z" fill="#8d8d8d"/><path d="M96.0 469.1C103.2 465.9 128.2 469.0 136.0 469.1C143.8 469.2 137.9 469.0 139.5 469.5C141.1 469.9 144.2 468.6 144.8 471.8C145.5 474.9 144.7 484.3 143.1 487.0C141.5 489.7 144.5 487.0 136.0 487.0C127.5 487.0 103.2 490.2 96.0 487.0C88.8 483.8 88.8 472.3 96.0 469.1Z" fill="#838383"/><path d="M281.0 396.0C282.8 394.6 292.9 396.7 296.0 398.0C299.1 399.3 299.2 401.0 298.5 403.0C297.8 405.0 290.9 407.9 292.2 409.2C293.6 410.6 300.8 410.5 306.0 410.5C311.2 410.5 315.6 409.7 321.0 409.2C326.4 408.8 330.6 408.4 336.0 408.0C341.4 407.6 345.6 407.3 351.0 406.8C356.4 406.2 363.3 403.4 366.0 405.0C368.7 406.6 367.8 413.2 366.0 415.5C364.2 417.8 359.6 416.2 356.0 418.0C352.4 419.8 349.6 423.5 346.0 425.5C342.4 427.5 339.6 428.8 336.0 429.2C332.4 429.7 329.6 428.9 326.0 428.0C322.4 427.1 319.6 424.5 316.0 424.2C312.4 424.0 309.1 424.7 306.0 426.8C302.9 428.8 301.2 431.7 298.5 435.5C295.8 439.3 294.1 443.9 291.0 448.0C287.9 452.1 285.1 455.4 281.0 458.0C276.9 460.6 273.4 461.6 268.5 462.5C263.6 463.4 258.4 463.4 253.5 463.0C248.6 462.6 244.2 462.1 241.0 460.5C237.8 458.9 235.1 456.5 236.0 454.2C236.9 452.0 241.9 450.0 246.0 448.0C250.1 446.0 254.9 445.2 258.5 443.0C262.1 440.8 264.6 438.2 266.0 435.5C267.4 432.8 264.2 431.6 266.0 428.0C267.8 424.4 272.4 419.6 276.0 415.5C279.6 411.4 285.1 409.0 286.0 405.5C286.9 402.0 279.2 397.4 281.0 396.0Z" fill="#838383"/><path d="M323.5 465.5C325.3 460.6 329.4 461.4 333.5 460.0C337.6 458.6 341.5 457.9 346.0 458.0C350.5 458.1 354.9 459.1 358.5 460.5C362.1 461.9 364.6 460.7 366.0 465.5C367.4 470.3 373.6 483.1 366.0 487.0C358.4 490.9 331.1 490.9 323.5 487.0C315.9 483.1 321.7 470.4 323.5 465.5Z" fill="#838383"/></g>
<g filter="url(#b2)"><path d="M96.0 383.8C103.2 381.8 119.8 383.6 136.0 383.8C152.2 383.9 168.0 384.3 186.0 384.5C204.0 384.7 218.0 385.0 236.0 385.0C254.0 385.0 268.0 384.5 286.0 384.5C304.0 384.5 321.6 384.8 336.0 385.0C350.4 385.2 360.6 383.4 366.0 385.5C371.4 387.6 371.4 394.6 366.0 396.5C360.6 398.4 350.4 396.2 336.0 396.0C321.6 395.8 304.0 395.7 286.0 395.5C268.0 395.3 254.0 395.0 236.0 395.0C218.0 395.0 204.0 395.5 186.0 395.5C168.0 395.5 152.2 394.9 136.0 394.8C119.8 394.6 103.2 396.7 96.0 394.8C88.8 392.8 88.8 385.7 96.0 383.8Z" fill="#8d8d8d"/><path d="M96.0 385.5C103.2 385.0 124.3 385.5 136.0 385.5C147.7 385.5 152.0 385.2 161.0 385.2C170.0 385.3 177.0 385.4 186.0 386.0C195.0 386.6 211.0 388.0 211.0 388.5C211.0 389.0 195.0 389.0 186.0 389.0C177.0 389.0 170.0 388.8 161.0 388.8C152.0 388.7 147.7 388.5 136.0 388.5C124.3 388.5 103.2 389.0 96.0 388.5C88.8 388.0 88.8 386.0 96.0 385.5Z" fill="#f2f2f2"/><path d="M96.0 391.0C103.2 390.5 127.5 391.0 136.0 391.0C144.6 391.0 140.8 390.7 143.5 391.0C146.2 391.3 151.0 392.0 151.0 392.5C151.0 393.0 146.2 393.7 143.5 394.0C140.8 394.3 144.6 394.0 136.0 394.0C127.5 394.0 103.2 394.5 96.0 394.0C88.8 393.5 88.8 391.5 96.0 391.0Z" fill="#000000"/><path d="M96.0 394.2C103.2 393.8 126.1 394.2 136.0 394.2C145.9 394.2 145.6 394.0 151.0 394.2C156.4 394.5 166.0 395.1 166.0 395.5C166.0 395.9 156.4 396.5 151.0 396.8C145.6 397.0 145.9 396.8 136.0 396.8C126.1 396.8 103.2 397.2 96.0 396.8C88.8 396.3 88.8 394.7 96.0 394.2Z" fill="#727272"/><path d="M161.0 390.5C161.0 390.1 177.0 389.7 186.0 389.8C195.0 389.8 203.3 390.2 211.0 390.8C218.7 391.3 228.5 392.6 228.5 393.0C228.5 393.4 218.7 393.4 211.0 393.2C203.3 393.1 195.0 392.7 186.0 392.2C177.0 391.8 161.0 390.9 161.0 390.5Z" fill="#b9b9b9"/><path d="M166.0 393.5C166.0 392.9 175.6 393.4 181.0 394.2C186.4 395.1 191.3 396.6 196.0 398.2C200.7 399.9 207.2 402.9 207.2 403.5C207.2 404.1 200.7 402.8 196.0 401.8C191.3 400.7 186.4 399.2 181.0 397.8C175.6 396.3 166.0 394.1 166.0 393.5Z" fill="#8d8d8d"/><path d="M221.0 387.0C221.0 386.6 230.2 385.7 236.0 385.8C241.8 385.8 253.5 387.1 253.5 387.5C253.5 387.9 241.8 388.3 236.0 388.2C230.2 388.2 221.0 387.4 221.0 387.0Z" fill="#464646"/><path d="M218.5 391.5C218.5 391.0 232.4 390.5 241.0 390.5C249.6 390.5 259.7 391.2 266.0 391.8C272.3 392.3 276.0 393.1 276.0 393.5C276.0 393.9 272.3 394.2 266.0 394.2C259.7 394.2 249.6 394.0 241.0 393.5C232.4 393.0 218.5 392.0 218.5 391.5Z" fill="#b9b9b9"/><path d="M301.0 393.5C301.0 392.9 312.4 391.7 321.0 391.2C329.6 390.8 340.4 391.1 348.5 391.0C356.6 390.9 362.9 389.9 366.0 390.5C369.1 391.1 369.1 393.7 366.0 394.5C362.9 395.3 356.6 395.0 348.5 395.0C340.4 395.0 329.6 395.0 321.0 394.8C312.4 394.5 301.0 394.1 301.0 393.5Z" fill="#dedede"/><path d="M311.0 386.5C311.0 386.0 323.8 385.0 331.0 384.5C338.2 384.0 344.7 384.0 351.0 383.8C357.3 383.5 363.3 382.7 366.0 383.2C368.7 383.8 368.7 386.0 366.0 386.8C363.3 387.5 357.3 387.1 351.0 387.2C344.7 387.4 338.2 387.6 331.0 387.5C323.8 387.4 311.0 387.0 311.0 386.5Z" fill="#000000"/></g>
<g filter="url(#b4)"><path d="M357.0 405.0C360.6 402.8 371.4 403.9 377.0 403.5C382.6 403.1 387.4 402.4 388.2 403.0C389.1 403.6 384.9 405.4 382.0 406.8C379.1 408.1 375.6 408.9 372.0 410.5C368.4 412.1 364.7 414.6 362.0 415.5C359.3 416.4 357.9 417.4 357.0 415.5C356.1 413.6 353.4 407.2 357.0 405.0Z" fill="#838383"/><path d="M357.0 464.2C358.4 460.4 362.2 464.6 364.5 465.5C366.8 466.4 368.1 465.4 369.5 469.2C370.9 473.1 374.2 483.8 372.0 487.0C369.8 490.2 359.7 491.1 357.0 487.0C354.3 482.9 355.6 468.1 357.0 464.2Z" fill="#838383"/><path d="M395.8 440.5C396.6 438.2 397.0 437.5 399.5 435.5C402.0 433.5 407.2 431.0 409.5 429.2C411.8 427.5 410.6 426.0 412.0 426.0C413.4 426.0 414.8 428.9 417.0 429.2C419.2 429.6 421.4 429.6 424.5 428.0C427.6 426.4 430.9 423.4 434.5 420.5C438.1 417.6 441.8 413.9 444.5 411.8C447.2 409.6 447.5 409.3 449.5 408.8C451.5 408.2 453.9 408.0 455.8 408.8C457.6 409.5 458.8 411.3 459.5 413.0C460.2 414.7 458.1 416.2 459.5 418.0C460.9 419.8 464.1 421.3 467.0 423.0C469.9 424.7 473.5 425.9 475.8 427.5C478.0 429.1 479.3 430.1 479.5 431.8C479.7 433.4 478.8 435.2 477.0 436.8C475.2 438.3 473.1 439.1 469.5 440.5C465.9 441.9 461.1 443.0 457.0 444.2C452.9 445.5 450.1 445.9 447.0 447.5C443.9 449.1 441.5 450.7 439.5 453.0C437.5 455.3 436.2 457.8 435.8 460.5C435.3 463.2 436.3 463.2 437.0 468.0C437.7 472.8 447.6 483.6 439.5 487.0C431.4 490.4 400.3 492.2 392.0 487.0C383.7 481.8 392.8 465.0 393.2 458.0C393.7 451.0 394.1 451.1 394.5 448.0C394.9 444.9 394.9 442.8 395.8 440.5Z" fill="#838383"/><path d="M477.0 460.5C478.1 459.5 483.4 458.0 487.0 457.5C490.6 457.0 493.4 457.0 497.0 457.5C500.6 458.0 504.8 459.3 507.0 460.5C509.2 461.7 510.4 463.0 509.5 464.2C508.6 465.5 505.6 467.3 502.0 467.5C498.4 467.7 493.3 466.3 489.5 465.5C485.7 464.7 483.0 463.9 480.8 463.0C478.5 462.1 475.9 461.5 477.0 460.5Z" fill="#838383"/><path d="M477.0 403.5C478.8 402.5 485.7 402.4 492.0 402.5C498.3 402.6 506.1 403.3 512.0 404.2C517.9 405.2 517.3 407.3 524.5 408.0C531.7 408.7 544.4 409.0 552.0 408.0C559.6 407.0 563.0 403.3 567.0 402.5C571.0 401.7 572.2 402.9 574.5 403.5C576.8 404.1 576.4 405.9 579.5 406.0C582.6 406.1 589.8 389.7 592.0 404.2C594.2 418.8 605.0 472.1 592.0 487.0C579.0 501.9 532.1 490.4 519.5 487.0C506.9 483.6 520.2 472.3 522.0 468.0C523.8 463.7 527.0 464.6 529.5 463.0C532.0 461.4 534.9 460.6 535.8 459.2C536.6 457.9 533.8 456.6 534.5 455.5C535.2 454.4 538.1 454.4 539.5 453.0C540.9 451.6 542.5 449.6 542.0 448.0C541.5 446.4 538.8 445.6 537.0 444.2C535.2 442.9 532.9 442.5 532.0 440.5C531.1 438.5 533.4 435.3 532.0 433.0C530.6 430.7 528.1 429.1 524.5 427.5C520.9 425.9 516.0 425.5 512.0 424.2C507.9 423.0 505.6 422.3 502.0 420.5C498.4 418.7 495.6 416.5 492.0 414.2C488.4 412.0 484.7 409.9 482.0 408.0C479.3 406.1 475.2 404.5 477.0 403.5Z" fill="#838383"/></g>
<g filter="url(#b2)"><path d="M357.0 383.8C366.9 381.9 393.1 384.5 412.0 384.5C430.9 384.5 444.0 383.9 462.0 383.8C480.0 383.6 494.0 383.5 512.0 383.5C530.0 383.5 547.6 383.4 562.0 383.5C576.4 383.6 586.6 382.3 592.0 384.2C597.4 386.2 597.4 392.6 592.0 394.2C586.6 395.9 576.4 393.6 562.0 393.5C547.6 393.4 530.0 393.3 512.0 393.5C494.0 393.7 480.0 394.4 462.0 394.8C444.0 395.1 430.9 395.5 412.0 395.5C393.1 395.5 366.9 396.9 357.0 394.8C347.1 392.6 347.1 385.6 357.0 383.8Z" fill="#727272"/><path d="M357.0 384.0C362.4 383.4 376.2 383.7 387.0 383.8C397.8 383.8 406.6 383.9 417.0 384.5C427.4 385.1 444.5 386.5 444.5 387.0C444.5 387.5 427.4 387.5 417.0 387.5C406.6 387.5 397.8 387.3 387.0 387.2C376.2 387.2 362.4 387.6 357.0 387.0C351.6 386.4 351.6 384.6 357.0 384.0Z" fill="#000000"/><path d="M357.0 390.2C361.5 389.8 373.0 390.0 382.0 390.0C391.0 390.0 398.9 390.0 407.0 390.2C415.1 390.5 427.0 391.1 427.0 391.5C427.0 391.9 415.1 392.5 407.0 392.8C398.9 393.0 391.0 393.0 382.0 393.0C373.0 393.0 361.5 393.2 357.0 392.8C352.5 392.3 352.5 390.7 357.0 390.2Z" fill="#dedede"/><path d="M397.0 394.0C397.0 393.5 413.7 392.4 424.5 391.5C435.3 390.6 448.4 389.8 457.0 389.2C465.6 388.7 466.6 388.4 472.0 388.2C477.4 388.1 487.0 388.1 487.0 388.5C487.0 388.9 477.4 390.0 472.0 390.8C466.6 391.5 465.6 392.1 457.0 392.8C448.4 393.4 435.3 394.3 424.5 394.5C413.7 394.7 397.0 394.5 397.0 394.0Z" fill="#000000"/><path d="M492.0 385.5C492.0 384.9 503.0 384.0 512.0 383.8C521.0 383.5 533.0 383.8 542.0 384.2C551.0 384.7 562.0 385.9 562.0 386.5C562.0 387.1 551.0 387.6 542.0 387.8C533.0 387.9 521.0 387.7 512.0 387.2C503.0 386.8 492.0 386.1 492.0 385.5Z" fill="#8d8d8d"/><path d="M522.0 390.5C522.0 389.9 534.8 388.6 542.0 388.2C549.2 387.9 555.7 388.3 562.0 388.8C568.3 389.2 577.0 390.4 577.0 391.0C577.0 391.6 568.3 392.1 562.0 392.2C555.7 392.4 549.2 392.1 542.0 391.8C534.8 391.4 522.0 391.1 522.0 390.5Z" fill="#8d8d8d"/><path d="M554.5 385.5C554.5 385.0 562.8 384.3 569.5 384.0C576.2 383.7 588.0 383.5 592.0 384.0C596.0 384.5 596.0 386.5 592.0 387.0C588.0 387.5 576.2 387.3 569.5 387.0C562.8 386.7 554.5 386.0 554.5 385.5Z" fill="#b9b9b9"/><path d="M557.0 392.5C557.0 392.1 565.7 391.2 572.0 390.8C578.3 390.3 588.4 389.9 592.0 390.2C595.6 390.6 595.6 392.2 592.0 392.8C588.4 393.3 578.3 393.3 572.0 393.2C565.7 393.2 557.0 392.9 557.0 392.5Z" fill="#464646"/><path d="M479.5 394.0C479.5 393.4 487.1 392.6 492.0 392.8C496.9 392.9 502.5 393.7 507.0 394.8C511.5 395.8 517.0 397.9 517.0 398.5C517.0 399.1 511.5 398.7 507.0 398.2C502.5 397.8 496.9 397.0 492.0 396.2C487.1 395.5 479.5 394.6 479.5 394.0Z" fill="#a9a9a9"/><path d="M497.0 396.8C497.0 395.9 509.8 396.3 517.0 397.0C524.2 397.7 530.7 399.0 537.0 400.5C543.3 402.0 552.0 404.8 552.0 405.5C552.0 406.2 543.3 405.2 537.0 404.5C530.7 403.8 524.2 402.9 517.0 401.5C509.8 400.1 497.0 397.6 497.0 396.8Z" fill="#8d8d8d"/></g>
<g filter="url(#b4)"><path d="M580.5 398.0 L768.0 393.0 L808.0 393.0 L808.0 487.0 L768.0 487.0 L580.5 487.0Z" fill="#838383"/><path d="M633.0 406.8C638.9 404.7 644.2 403.2 650.5 401.8C656.8 400.3 661.2 399.5 668.0 398.5C674.8 397.5 670.0 396.8 688.0 396.0C706.0 395.2 746.4 394.6 768.0 394.2C789.6 393.9 800.8 382.8 808.0 394.2C815.2 405.7 815.2 446.5 808.0 458.0C800.8 469.5 768.0 458.0 768.0 458.0C768.0 458.0 808.0 458.0 808.0 458.0C808.0 458.0 776.1 458.4 768.0 458.0C759.9 457.6 765.5 456.9 763.0 455.5C760.5 454.1 755.8 454.6 754.2 450.5C752.7 446.4 753.8 440.2 754.2 433.0C754.7 425.8 757.4 415.2 756.8 410.5C756.1 405.8 753.9 406.8 750.5 406.8C747.1 406.8 742.0 407.6 738.0 410.5C734.0 413.4 731.1 418.7 728.0 423.0C724.9 427.3 724.1 432.2 720.5 434.2C716.9 436.3 712.5 434.6 708.0 434.2C703.5 433.9 696.6 430.9 695.5 432.5C694.4 434.1 701.3 440.2 701.8 443.0C702.2 445.8 702.7 447.3 698.0 448.0C693.3 448.7 684.0 447.2 675.5 446.8C667.0 446.3 659.5 445.4 650.5 445.5C641.5 445.6 635.4 447.3 625.5 447.5C615.6 447.7 601.1 447.6 595.5 446.8C589.9 445.9 593.8 445.5 594.2 443.0C594.7 440.5 596.0 436.6 598.0 433.0C600.0 429.4 601.9 426.6 605.5 423.0C609.1 419.4 613.0 415.9 618.0 413.0C623.0 410.1 627.1 408.8 633.0 406.8Z" fill="#7c7c7c"/><path d="M583.0 462.5C586.6 457.1 595.4 458.7 603.0 456.8C610.6 454.8 617.0 453.0 625.5 451.8C634.0 450.5 642.4 450.0 650.5 450.0C658.6 450.0 663.8 450.5 670.5 451.8C677.2 453.0 681.7 455.2 688.0 456.8C694.3 458.3 699.6 459.1 705.5 460.5C711.4 461.9 718.2 462.4 720.5 464.2C722.8 466.1 720.2 466.4 718.0 470.5C715.8 474.6 720.6 484.0 708.0 487.0C695.4 490.0 659.7 490.6 648.0 487.0C636.3 483.4 645.7 470.6 643.0 466.8C640.3 462.9 637.0 465.1 633.0 465.5C629.0 465.9 623.6 465.4 620.5 469.2C617.4 473.1 622.2 483.8 615.5 487.0C608.8 490.2 588.9 491.4 583.0 487.0C577.1 482.6 579.4 467.9 583.0 462.5Z" fill="#7c7c7c"/></g>
<g filter="url(#b2)"><path d="M583.0 383.5C592.9 381.7 619.1 383.5 638.0 383.5C656.9 383.5 670.0 383.5 688.0 383.5C706.0 383.5 723.6 383.5 738.0 383.5C752.4 383.5 755.4 383.5 768.0 383.5C780.6 383.5 800.8 381.7 808.0 383.5C815.2 385.3 815.2 391.7 808.0 393.5C800.8 395.3 780.6 393.5 768.0 393.5C755.4 393.5 752.4 393.3 738.0 393.5C723.6 393.7 706.0 394.3 688.0 394.5C670.0 394.7 656.9 394.7 638.0 394.5C619.1 394.3 592.9 395.5 583.0 393.5C573.1 391.5 573.1 385.3 583.0 383.5Z" fill="#8d8d8d"/><path d="M598.0 405.0C598.0 404.3 609.9 402.0 618.0 400.5C626.1 399.0 633.5 397.7 643.0 396.5C652.5 395.3 665.5 393.9 670.5 394.0C675.5 394.1 675.5 395.8 670.5 397.0C665.5 398.2 652.5 399.1 643.0 400.5C633.5 401.9 626.1 403.7 618.0 404.5C609.9 405.3 598.0 405.7 598.0 405.0Z" fill="#8d8d8d"/><path d="M583.0 389.0C588.4 388.5 603.1 388.7 613.0 389.0C622.9 389.3 638.0 390.0 638.0 390.5C638.0 391.0 622.9 391.7 613.0 392.0C603.1 392.3 588.4 392.5 583.0 392.0C577.6 391.5 577.6 389.5 583.0 389.0Z" fill="#727272"/><path d="M583.0 391.0C586.6 390.6 595.8 390.7 603.0 390.8C610.2 390.8 623.0 391.1 623.0 391.5C623.0 391.9 610.2 393.0 603.0 393.2C595.8 393.5 586.6 393.4 583.0 393.0C579.4 392.6 579.4 391.4 583.0 391.0Z" fill="#000000"/><path d="M613.0 386.0C613.0 385.4 634.8 384.6 650.5 384.2C666.2 383.9 684.8 384.3 700.5 384.2C716.2 384.2 725.9 384.0 738.0 384.0C750.1 384.0 755.4 384.0 768.0 384.0C780.6 384.0 800.8 383.5 808.0 384.0C815.2 384.5 815.2 386.5 808.0 387.0C800.8 387.5 780.6 387.0 768.0 387.0C755.4 387.0 750.1 386.9 738.0 387.0C725.9 387.1 716.2 387.6 700.5 387.8C684.8 387.9 666.2 388.1 650.5 387.8C634.8 387.4 613.0 386.6 613.0 386.0Z" fill="#f2f2f2"/><path d="M658.0 388.5C658.0 388.1 669.9 387.8 678.0 387.5C686.1 387.2 695.8 386.9 703.0 387.0C710.2 387.1 718.0 387.6 718.0 388.0C718.0 388.4 710.2 388.7 703.0 389.0C695.8 389.3 686.1 389.6 678.0 389.5C669.9 389.4 658.0 388.9 658.0 388.5Z" fill="#000000"/><path d="M645.5 393.0C645.5 392.5 659.0 391.9 668.0 391.5C677.0 391.1 687.0 390.9 695.5 391.0C704.0 391.1 715.5 391.5 715.5 392.0C715.5 392.5 704.0 393.6 695.5 394.0C687.0 394.4 677.0 394.7 668.0 394.5C659.0 394.3 645.5 393.5 645.5 393.0Z" fill="#f2f2f2"/><path d="M620.5 397.0C620.5 396.5 634.0 395.1 643.0 394.5C652.0 393.9 662.0 393.5 670.5 393.5C679.0 393.5 690.5 394.0 690.5 394.5C690.5 395.0 679.0 396.0 670.5 396.5C662.0 397.0 652.0 397.4 643.0 397.5C634.0 397.6 620.5 397.5 620.5 397.0Z" fill="#b9b9b9"/><path d="M705.5 393.0C705.5 392.4 719.5 391.3 728.0 390.8C736.5 390.2 745.8 390.2 753.0 390.0C760.2 389.8 758.1 389.6 768.0 389.5C777.9 389.4 800.8 388.8 808.0 389.5C815.2 390.2 815.2 392.8 808.0 393.5C800.8 394.2 777.9 393.4 768.0 393.5C758.1 393.6 760.2 393.9 753.0 394.0C745.8 394.1 736.5 394.4 728.0 394.2C719.5 394.1 705.5 393.6 705.5 393.0Z" fill="#000000"/><path d="M680.5 396.5C680.5 396.1 700.4 395.6 713.0 395.2C725.6 394.9 740.6 394.8 750.5 394.8C760.4 394.7 757.6 394.8 768.0 394.8C778.4 394.8 800.8 394.3 808.0 394.8C815.2 395.2 815.2 396.8 808.0 397.2C800.8 397.7 778.4 397.2 768.0 397.2C757.6 397.2 760.4 397.2 750.5 397.2C740.6 397.3 725.6 397.9 713.0 397.8C700.4 397.6 680.5 396.9 680.5 396.5Z" fill="#727272"/></g>
</g></g>
<rect x="136" y="157" width="632" height="316" fill="none" stroke="#000" stroke-width="2"/>
<g stroke="#000" fill="none" shape-rendering="crispEdges"><path d="M146.5 473 v-5 M146.5 157 v5" stroke-width="1"/><path d="M159.5 473 v-5 M159.5 157 v5" stroke-width="1"/><path d="M172.5 473 v-5 M172.5 157 v5" stroke-width="1"/><path d="M184.5 473 v-5 M184.5 157 v5" stroke-width="1"/><path d="M197.6 473 v-9 M197.6 157 v9" stroke-width="2"/><path d="M210.5 473 v-5 M210.5 157 v5" stroke-width="1"/><path d="M223.5 473 v-5 M223.5 157 v5" stroke-width="1"/><path d="M235.5 473 v-5 M235.5 157 v5" stroke-width="1"/><path d="M248.5 473 v-5 M248.5 157 v5" stroke-width="1"/><path d="M261.2 473 v-9 M261.2 157 v9" stroke-width="2"/><path d="M273.5 473 v-5 M273.5 157 v5" stroke-width="1"/><path d="M286.5 473 v-5 M286.5 157 v5" stroke-width="1"/><path d="M299.5 473 v-5 M299.5 157 v5" stroke-width="1"/><path d="M312.5 473 v-5 M312.5 157 v5" stroke-width="1"/><path d="M324.8 473 v-9 M324.8 157 v9" stroke-width="2"/><path d="M337.5 473 v-5 M337.5 157 v5" stroke-width="1"/><path d="M350.5 473 v-5 M350.5 157 v5" stroke-width="1"/><path d="M362.5 473 v-5 M362.5 157 v5" stroke-width="1"/><path d="M375.5 473 v-5 M375.5 157 v5" stroke-width="1"/><path d="M388.4 473 v-9 M388.4 157 v9" stroke-width="2"/><path d="M401.5 473 v-5 M401.5 157 v5" stroke-width="1"/><path d="M413.5 473 v-5 M413.5 157 v5" stroke-width="1"/><path d="M426.5 473 v-5 M426.5 157 v5" stroke-width="1"/><path d="M439.5 473 v-5 M439.5 157 v5" stroke-width="1"/><path d="M452.0 473 v-9 M452.0 157 v9" stroke-width="2"/><path d="M464.5 473 v-5 M464.5 157 v5" stroke-width="1"/><path d="M477.5 473 v-5 M477.5 157 v5" stroke-width="1"/><path d="M490.5 473 v-5 M490.5 157 v5" stroke-width="1"/><path d="M502.5 473 v-5 M502.5 157 v5" stroke-width="1"/><path d="M515.6 473 v-9 M515.6 157 v9" stroke-width="2"/><path d="M528.5 473 v-5 M528.5 157 v5" stroke-width="1"/><path d="M541.5 473 v-5 M541.5 157 v5" stroke-width="1"/><path d="M553.5 473 v-5 M553.5 157 v5" stroke-width="1"/><path d="M566.5 473 v-5 M566.5 157 v5" stroke-width="1"/><path d="M579.2 473 v-9 M579.2 157 v9" stroke-width="2"/><path d="M591.5 473 v-5 M591.5 157 v5" stroke-width="1"/><path d="M604.5 473 v-5 M604.5 157 v5" stroke-width="1"/><path d="M617.5 473 v-5 M617.5 157 v5" stroke-width="1"/><path d="M630.5 473 v-5 M630.5 157 v5" stroke-width="1"/><path d="M642.8 473 v-9 M642.8 157 v9" stroke-width="2"/><path d="M655.5 473 v-5 M655.5 157 v5" stroke-width="1"/><path d="M668.5 473 v-5 M668.5 157 v5" stroke-width="1"/><path d="M680.5 473 v-5 M680.5 157 v5" stroke-width="1"/><path d="M693.5 473 v-5 M693.5 157 v5" stroke-width="1"/><path d="M706.4 473 v-9 M706.4 157 v9" stroke-width="2"/><path d="M719.5 473 v-5 M719.5 157 v5" stroke-width="1"/><path d="M731.5 473 v-5 M731.5 157 v5" stroke-width="1"/><path d="M744.5 473 v-5 M744.5 157 v5" stroke-width="1"/><path d="M757.5 473 v-5 M757.5 157 v5" stroke-width="1"/><path d="M136 454.5 h5 M768 454.5 h-5" stroke-width="1"/><path d="M136 434.5 h5 M768 434.5 h-5" stroke-width="1"/><path d="M136 414.5 h5 M768 414.5 h-5" stroke-width="1"/><path d="M136 394.3 h9 M768 394.3 h-9" stroke-width="2"/><path d="M136 374.5 h5 M768 374.5 h-5" stroke-width="1"/><path d="M136 354.5 h5 M768 354.5 h-5" stroke-width="1"/><path d="M136 334.5 h5 M768 334.5 h-5" stroke-width="1"/><path d="M136 314.7 h9 M768 314.7 h-9" stroke-width="2"/><path d="M136 294.5 h5 M768 294.5 h-5" stroke-width="1"/><path d="M136 274.5 h5 M768 274.5 h-5" stroke-width="1"/><path d="M136 254.5 h5 M768 254.5 h-5" stroke-width="1"/><path d="M136 235.1 h9 M768 235.1 h-9" stroke-width="2"/><path d="M136 215.5 h5 M768 215.5 h-5" stroke-width="1"/><path d="M136 195.5 h5 M768 195.5 h-5" stroke-width="1"/><path d="M136 175.5 h5 M768 175.5 h-5" stroke-width="1"/></g>
<rect x="784" y="247.00" width="18" height="22.90" fill="#ff2020"/>
<rect x="784" y="269.60" width="18" height="22.90" fill="#ff5500"/>
<rect x="784" y="292.20" width="18" height="22.90" fill="#ffaa00"/>
<rect x="784" y="314.80" width="18" height="22.90" fill="#ffff00"/>
<rect x="784" y="337.40" width="18" height="22.90" fill="#80ff00"/>
<rect x="784" y="360.00" width="18" height="22.90" fill="#00ff80"/>
<rect x="784" y="382.60" width="18" height="22.90" fill="#00ffff"/>
<rect x="784" y="405.20" width="18" height="22.90" fill="#0055ff"/>
<rect x="784" y="427.80" width="18" height="22.90" fill="#0000aa"/>
<rect x="784" y="450.40" width="18" height="22.90" fill="#3300aa"/>
<polygon points="784,247 802,247 793,210.5" fill="#ffaaaa" stroke="#000" stroke-width="2" stroke-linejoin="miter" stroke-miterlimit="10"/>
<polygon points="784,473 802,473 793,510" fill="#8000aa" stroke="#000" stroke-width="2" stroke-linejoin="miter" stroke-miterlimit="10"/>
<path d="M784 269.5 H802 M784 292.5 H802 M784 314.5 H802 M784 337.5 H802 M784 360.5 H802 M784 382.5 H802 M784 405.5 H802 M784 427.5 H802 M784 450.5 H802 " stroke="#000" stroke-width="1" fill="none" shape-rendering="crispEdges"/>
<rect x="784" y="247" width="18" height="226" fill="none" stroke="#000" stroke-width="2"/>
<text x="224.0" y="112.6" font-size="27.8" textLength="457.0" lengthAdjust="spacing" class="thin ws" stroke="#000" stroke-width="0.55">potential temperature deviation</text>
<text x="777.3" y="169.2" font-size="16.5" textLength="122.0" lengthAdjust="spacing" class="thin" stroke="#000" stroke-width="0.4">t=3.2112e+06</text>
<text x="47.5" y="134.6" font-size="15.5" textLength="84.0" lengthAdjust="spacing" class="lab" stroke="#000" stroke-width="0.75">(×1E4 m)</text>
<text x="689.5" y="517.0" font-size="15.5" textLength="86.0" lengthAdjust="spacing" class="lab" stroke="#000" stroke-width="0.75">(×1E4 m)</text>
<text x="377.3" y="546.7" font-size="22" textLength="151.0" lengthAdjust="spacing" class="thin" stroke="#000" stroke-width="0.55">X coordinate</text>
<g transform="translate(98.7 389) rotate(-90)">
<text x="0.0" y="0.0" font-size="22" textLength="149.5" lengthAdjust="spacing" class="thin" stroke="#000" stroke-width="0.55">Z coordinate</text>
</g>
<text x="197.3" y="495.6" font-size="16.8" text-anchor="middle" class="lab" stroke="#000" stroke-width="0.75">1</text>
<text x="260.9" y="495.6" font-size="16.8" text-anchor="middle" class="lab" stroke="#000" stroke-width="0.75">2</text>
<text x="324.5" y="495.6" font-size="16.8" text-anchor="middle" class="lab" stroke="#000" stroke-width="0.75">3</text>
<text x="388.1" y="495.6" font-size="16.8" text-anchor="middle" class="lab" stroke="#000" stroke-width="0.75">4</text>
<text x="451.7" y="495.6" font-size="16.8" text-anchor="middle" class="lab" stroke="#000" stroke-width="0.75">5</text>
<text x="515.3" y="495.6" font-size="16.8" text-anchor="middle" class="lab" stroke="#000" stroke-width="0.75">6</text>
<text x="578.9" y="495.6" font-size="16.8" text-anchor="middle" class="lab" stroke="#000" stroke-width="0.75">7</text>
<text x="642.5" y="495.6" font-size="16.8" text-anchor="middle" class="lab" stroke="#000" stroke-width="0.75">8</text>
<text x="706.1" y="495.6" font-size="16.8" text-anchor="middle" class="lab" stroke="#000" stroke-width="0.75">9</text>
<text x="121.3" y="399.9" font-size="16.5" text-anchor="middle" class="lab" stroke="#000" stroke-width="0.75">2</text>
<text x="121.3" y="320.3" font-size="16.5" text-anchor="middle" class="lab" stroke="#000" stroke-width="0.75">4</text>
<text x="121.3" y="240.7" font-size="16.5" text-anchor="middle" class="lab" stroke="#000" stroke-width="0.75">6</text>
<text x="810.0" y="275.0" font-size="15" textLength="37.0" lengthAdjust="spacing" class="lab" stroke="#000" stroke-width="0.75">0.32</text>
<text x="810.0" y="320.2" font-size="15" textLength="37.0" lengthAdjust="spacing" class="lab" stroke="#000" stroke-width="0.75">0.16</text>
<text x="810.0" y="365.4" font-size="15" class="lab" stroke="#000" stroke-width="0.75">0</text>
<text x="809.3" y="410.6" font-size="15" textLength="50.5" lengthAdjust="spacing" class="lab" stroke="#000" stroke-width="0.75">−0.16</text>
<text x="809.3" y="455.8" font-size="15" textLength="50.5" lengthAdjust="spacing" class="lab" stroke="#000" stroke-width="0.75">−0.32</text>
</svg></body></html>
